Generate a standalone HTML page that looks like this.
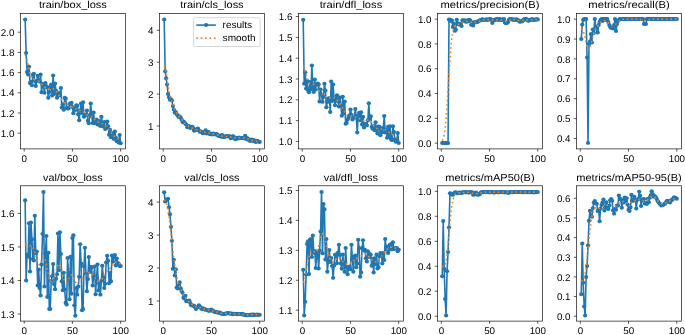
<!DOCTYPE html>
<html><head><meta charset="utf-8"><title>results</title>
<style>
html,body{margin:0;padding:0;background:#fff;}
body{width:685px;height:335px;overflow:hidden;font-family:"Liberation Sans",sans-serif;}
svg{display:block;will-change:transform;}
svg text{text-rendering:geometricPrecision;}
</style></head><body>
<svg width="685" height="335" viewBox="0 0 685 335">
<rect width="685" height="335" fill="#fff"/>
<g font-family="'Liberation Sans', sans-serif" fill="#000">
<g>
<clipPath id="c0"><rect x="20.39" y="13.55" width="105.03" height="135.35"/></clipPath>
<g clip-path="url(#c0)">
<polyline points="25.16,19.47 26.13,52.91 27.09,72.09 28.06,74.55 29.02,66.67 29.99,83.1 30.95,81.76 31.92,85.22 32.88,74.69 33.84,73.73 34.81,81.08 35.77,86.03 36.74,80.87 37.7,75.86 38.67,80.28 39.63,81.46 40.6,74.55 41.56,92.29 42.53,83.68 43.49,85.92 44.45,92.8 45.42,83.1 46.38,86.35 47.35,87.62 48.31,97.85 49.28,91.93 50.24,86.7 51.21,84.42 52.17,95.61 53.14,75.38 54.1,93.98 55.06,83.61 56.03,90.81 56.99,97.65 57.96,94.89 58.92,93.08 59.89,95.35 60.85,88.05 61.82,107.6 62.78,104.27 63.74,109.74 64.71,97.85 65.67,98.56 66.64,107.98 67.6,108.42 68.57,108.44 69.53,104.01 70.5,103.44 71.46,102.7 72.42,107.1 73.39,113.34 74.35,108.25 75.32,110.03 76.28,105.12 77.25,105.77 78.21,114.17 79.18,120.27 80.14,110.52 81.11,103.51 82.07,113.12 83.03,102.19 84,116.64 84.96,114.99 85.93,114.84 86.89,110.38 87.86,120.74 88.82,123.2 89.79,114.88 90.75,103.51 91.72,116.28 92.68,122.96 93.64,112.53 94.61,123.2 95.57,122.39 96.54,119.55 97.5,124.51 98.47,120.66 99.43,124.83 100.4,125.94 101.36,116.64 102.32,123.2 103.29,126.48 104.25,121.88 105.22,128.96 106.18,127.99 107.15,121.58 108.11,126.23 109.08,134.72 110.04,129.74 111.01,137.14 111.97,133.22 112.93,133.65 113.9,138.9 114.86,131.41 115.83,137.74 116.79,141.28 117.76,139.66 118.72,142.39 119.69,135.02 120.65,143.23" fill="none" stroke="#1f77b4" stroke-width="1.6" stroke-linejoin="round" stroke-linecap="square"/>
<g fill="#1f77b4"><ellipse cx="25.16" cy="19.47" rx="2.1319999999999997" ry="1.9884999999999997"/><ellipse cx="26.13" cy="52.91" rx="2.1319999999999997" ry="1.9884999999999997"/><ellipse cx="27.09" cy="72.09" rx="2.1319999999999997" ry="1.9884999999999997"/><ellipse cx="28.06" cy="74.55" rx="2.1319999999999997" ry="1.9884999999999997"/><ellipse cx="29.02" cy="66.67" rx="2.1319999999999997" ry="1.9884999999999997"/><ellipse cx="29.99" cy="83.1" rx="2.1319999999999997" ry="1.9884999999999997"/><ellipse cx="30.95" cy="81.76" rx="2.1319999999999997" ry="1.9884999999999997"/><ellipse cx="31.92" cy="85.22" rx="2.1319999999999997" ry="1.9884999999999997"/><ellipse cx="32.88" cy="74.69" rx="2.1319999999999997" ry="1.9884999999999997"/><ellipse cx="33.84" cy="73.73" rx="2.1319999999999997" ry="1.9884999999999997"/><ellipse cx="34.81" cy="81.08" rx="2.1319999999999997" ry="1.9884999999999997"/><ellipse cx="35.77" cy="86.03" rx="2.1319999999999997" ry="1.9884999999999997"/><ellipse cx="36.74" cy="80.87" rx="2.1319999999999997" ry="1.9884999999999997"/><ellipse cx="37.7" cy="75.86" rx="2.1319999999999997" ry="1.9884999999999997"/><ellipse cx="38.67" cy="80.28" rx="2.1319999999999997" ry="1.9884999999999997"/><ellipse cx="39.63" cy="81.46" rx="2.1319999999999997" ry="1.9884999999999997"/><ellipse cx="40.6" cy="74.55" rx="2.1319999999999997" ry="1.9884999999999997"/><ellipse cx="41.56" cy="92.29" rx="2.1319999999999997" ry="1.9884999999999997"/><ellipse cx="42.53" cy="83.68" rx="2.1319999999999997" ry="1.9884999999999997"/><ellipse cx="43.49" cy="85.92" rx="2.1319999999999997" ry="1.9884999999999997"/><ellipse cx="44.45" cy="92.8" rx="2.1319999999999997" ry="1.9884999999999997"/><ellipse cx="45.42" cy="83.1" rx="2.1319999999999997" ry="1.9884999999999997"/><ellipse cx="46.38" cy="86.35" rx="2.1319999999999997" ry="1.9884999999999997"/><ellipse cx="47.35" cy="87.62" rx="2.1319999999999997" ry="1.9884999999999997"/><ellipse cx="48.31" cy="97.85" rx="2.1319999999999997" ry="1.9884999999999997"/><ellipse cx="49.28" cy="91.93" rx="2.1319999999999997" ry="1.9884999999999997"/><ellipse cx="50.24" cy="86.7" rx="2.1319999999999997" ry="1.9884999999999997"/><ellipse cx="51.21" cy="84.42" rx="2.1319999999999997" ry="1.9884999999999997"/><ellipse cx="52.17" cy="95.61" rx="2.1319999999999997" ry="1.9884999999999997"/><ellipse cx="53.14" cy="75.38" rx="2.1319999999999997" ry="1.9884999999999997"/><ellipse cx="54.1" cy="93.98" rx="2.1319999999999997" ry="1.9884999999999997"/><ellipse cx="55.06" cy="83.61" rx="2.1319999999999997" ry="1.9884999999999997"/><ellipse cx="56.03" cy="90.81" rx="2.1319999999999997" ry="1.9884999999999997"/><ellipse cx="56.99" cy="97.65" rx="2.1319999999999997" ry="1.9884999999999997"/><ellipse cx="57.96" cy="94.89" rx="2.1319999999999997" ry="1.9884999999999997"/><ellipse cx="58.92" cy="93.08" rx="2.1319999999999997" ry="1.9884999999999997"/><ellipse cx="59.89" cy="95.35" rx="2.1319999999999997" ry="1.9884999999999997"/><ellipse cx="60.85" cy="88.05" rx="2.1319999999999997" ry="1.9884999999999997"/><ellipse cx="61.82" cy="107.6" rx="2.1319999999999997" ry="1.9884999999999997"/><ellipse cx="62.78" cy="104.27" rx="2.1319999999999997" ry="1.9884999999999997"/><ellipse cx="63.74" cy="109.74" rx="2.1319999999999997" ry="1.9884999999999997"/><ellipse cx="64.71" cy="97.85" rx="2.1319999999999997" ry="1.9884999999999997"/><ellipse cx="65.67" cy="98.56" rx="2.1319999999999997" ry="1.9884999999999997"/><ellipse cx="66.64" cy="107.98" rx="2.1319999999999997" ry="1.9884999999999997"/><ellipse cx="67.6" cy="108.42" rx="2.1319999999999997" ry="1.9884999999999997"/><ellipse cx="68.57" cy="108.44" rx="2.1319999999999997" ry="1.9884999999999997"/><ellipse cx="69.53" cy="104.01" rx="2.1319999999999997" ry="1.9884999999999997"/><ellipse cx="70.5" cy="103.44" rx="2.1319999999999997" ry="1.9884999999999997"/><ellipse cx="71.46" cy="102.7" rx="2.1319999999999997" ry="1.9884999999999997"/><ellipse cx="72.42" cy="107.1" rx="2.1319999999999997" ry="1.9884999999999997"/><ellipse cx="73.39" cy="113.34" rx="2.1319999999999997" ry="1.9884999999999997"/><ellipse cx="74.35" cy="108.25" rx="2.1319999999999997" ry="1.9884999999999997"/><ellipse cx="75.32" cy="110.03" rx="2.1319999999999997" ry="1.9884999999999997"/><ellipse cx="76.28" cy="105.12" rx="2.1319999999999997" ry="1.9884999999999997"/><ellipse cx="77.25" cy="105.77" rx="2.1319999999999997" ry="1.9884999999999997"/><ellipse cx="78.21" cy="114.17" rx="2.1319999999999997" ry="1.9884999999999997"/><ellipse cx="79.18" cy="120.27" rx="2.1319999999999997" ry="1.9884999999999997"/><ellipse cx="80.14" cy="110.52" rx="2.1319999999999997" ry="1.9884999999999997"/><ellipse cx="81.11" cy="103.51" rx="2.1319999999999997" ry="1.9884999999999997"/><ellipse cx="82.07" cy="113.12" rx="2.1319999999999997" ry="1.9884999999999997"/><ellipse cx="83.03" cy="102.19" rx="2.1319999999999997" ry="1.9884999999999997"/><ellipse cx="84" cy="116.64" rx="2.1319999999999997" ry="1.9884999999999997"/><ellipse cx="84.96" cy="114.99" rx="2.1319999999999997" ry="1.9884999999999997"/><ellipse cx="85.93" cy="114.84" rx="2.1319999999999997" ry="1.9884999999999997"/><ellipse cx="86.89" cy="110.38" rx="2.1319999999999997" ry="1.9884999999999997"/><ellipse cx="87.86" cy="120.74" rx="2.1319999999999997" ry="1.9884999999999997"/><ellipse cx="88.82" cy="123.2" rx="2.1319999999999997" ry="1.9884999999999997"/><ellipse cx="89.79" cy="114.88" rx="2.1319999999999997" ry="1.9884999999999997"/><ellipse cx="90.75" cy="103.51" rx="2.1319999999999997" ry="1.9884999999999997"/><ellipse cx="91.72" cy="116.28" rx="2.1319999999999997" ry="1.9884999999999997"/><ellipse cx="92.68" cy="122.96" rx="2.1319999999999997" ry="1.9884999999999997"/><ellipse cx="93.64" cy="112.53" rx="2.1319999999999997" ry="1.9884999999999997"/><ellipse cx="94.61" cy="123.2" rx="2.1319999999999997" ry="1.9884999999999997"/><ellipse cx="95.57" cy="122.39" rx="2.1319999999999997" ry="1.9884999999999997"/><ellipse cx="96.54" cy="119.55" rx="2.1319999999999997" ry="1.9884999999999997"/><ellipse cx="97.5" cy="124.51" rx="2.1319999999999997" ry="1.9884999999999997"/><ellipse cx="98.47" cy="120.66" rx="2.1319999999999997" ry="1.9884999999999997"/><ellipse cx="99.43" cy="124.83" rx="2.1319999999999997" ry="1.9884999999999997"/><ellipse cx="100.4" cy="125.94" rx="2.1319999999999997" ry="1.9884999999999997"/><ellipse cx="101.36" cy="116.64" rx="2.1319999999999997" ry="1.9884999999999997"/><ellipse cx="102.32" cy="123.2" rx="2.1319999999999997" ry="1.9884999999999997"/><ellipse cx="103.29" cy="126.48" rx="2.1319999999999997" ry="1.9884999999999997"/><ellipse cx="104.25" cy="121.88" rx="2.1319999999999997" ry="1.9884999999999997"/><ellipse cx="105.22" cy="128.96" rx="2.1319999999999997" ry="1.9884999999999997"/><ellipse cx="106.18" cy="127.99" rx="2.1319999999999997" ry="1.9884999999999997"/><ellipse cx="107.15" cy="121.58" rx="2.1319999999999997" ry="1.9884999999999997"/><ellipse cx="108.11" cy="126.23" rx="2.1319999999999997" ry="1.9884999999999997"/><ellipse cx="109.08" cy="134.72" rx="2.1319999999999997" ry="1.9884999999999997"/><ellipse cx="110.04" cy="129.74" rx="2.1319999999999997" ry="1.9884999999999997"/><ellipse cx="111.01" cy="137.14" rx="2.1319999999999997" ry="1.9884999999999997"/><ellipse cx="111.97" cy="133.22" rx="2.1319999999999997" ry="1.9884999999999997"/><ellipse cx="112.93" cy="133.65" rx="2.1319999999999997" ry="1.9884999999999997"/><ellipse cx="113.9" cy="138.9" rx="2.1319999999999997" ry="1.9884999999999997"/><ellipse cx="114.86" cy="131.41" rx="2.1319999999999997" ry="1.9884999999999997"/><ellipse cx="115.83" cy="137.74" rx="2.1319999999999997" ry="1.9884999999999997"/><ellipse cx="116.79" cy="141.28" rx="2.1319999999999997" ry="1.9884999999999997"/><ellipse cx="117.76" cy="139.66" rx="2.1319999999999997" ry="1.9884999999999997"/><ellipse cx="118.72" cy="142.39" rx="2.1319999999999997" ry="1.9884999999999997"/><ellipse cx="119.69" cy="135.02" rx="2.1319999999999997" ry="1.9884999999999997"/><ellipse cx="120.65" cy="143.23" rx="2.1319999999999997" ry="1.9884999999999997"/></g>
<polyline points="25.16,54.89 26.13,56.94 27.09,60.55 28.06,64.9 29.02,69.17 29.99,72.8 30.95,75.52 31.92,77.36 32.88,78.51 33.84,79.2 34.81,79.63 35.77,79.95 36.74,80.27 37.7,80.66 38.67,81.2 39.63,81.93 40.6,82.84 41.56,83.88 42.53,84.94 43.49,85.94 44.45,86.83 45.42,87.61 46.38,88.24 47.35,88.69 48.31,88.94 49.28,88.97 50.24,88.83 51.21,88.65 52.17,88.58 53.14,88.76 54.1,89.26 55.06,90.08 56.03,91.14 56.99,92.37 57.96,93.69 58.92,95.09 59.89,96.56 60.85,98.07 61.82,99.56 62.78,100.93 63.74,102.11 64.71,103.08 65.67,103.86 66.64,104.48 67.6,104.99 68.57,105.4 69.53,105.78 70.5,106.18 71.46,106.65 72.42,107.18 73.39,107.75 74.35,108.33 75.32,108.9 76.28,109.43 77.25,109.91 78.21,110.3 79.18,110.56 80.14,110.74 81.11,110.91 82.07,111.2 83.03,111.69 84,112.37 84.96,113.18 85.93,113.98 86.89,114.67 87.86,115.18 88.82,115.53 89.79,115.83 90.75,116.2 91.72,116.75 92.68,117.5 93.64,118.4 94.61,119.36 95.57,120.27 96.54,121.06 97.5,121.7 98.47,122.19 99.43,122.58 100.4,122.93 101.36,123.31 102.32,123.76 103.29,124.33 104.25,125.01 105.22,125.82 106.18,126.74 107.15,127.8 108.11,128.98 109.08,130.22 110.04,131.47 111.01,132.66 111.97,133.75 112.93,134.75 113.9,135.67 114.86,136.55 115.83,137.38 116.79,138.14 117.76,138.79 118.72,139.28 119.69,139.62 120.65,139.78" fill="none" stroke="#ff7f0e" stroke-width="1.6" stroke-dasharray="1.65 2.75" stroke-linejoin="round"/>
</g>
<rect x="20.39" y="13.55" width="105.03" height="135.35" fill="none" stroke="#000" stroke-width="0.65"/>
<path d="M24.2 148.9v2.7M72.42 148.9v2.7M120.65 148.9v2.7M20.39 133.2h-2.7M20.39 113h-2.7M20.39 92.8h-2.7M20.39 72.6h-2.7M20.39 52.4h-2.7M20.39 32.2h-2.7" stroke="#000" stroke-width="0.65" fill="none"/>
<g font-size="9.75">
<text transform="translate(21.58 161.9) scale(1.0031 1)">0</text>
<text transform="translate(67.09 161.9) scale(1.0031 1)">50</text>
<text transform="translate(112.59 161.9) scale(1.0036 1)">100</text>
<text transform="translate(0.8 136.8) scale(1.0031 1)">1.0</text>
<text transform="translate(0.8 116.6) scale(1.0031 1)">1.2</text>
<text transform="translate(0.8 96.4) scale(1.0031 1)">1.4</text>
<text transform="translate(0.8 76.2) scale(1.0031 1)">1.6</text>
<text transform="translate(0.8 56) scale(1.0031 1)">1.8</text>
<text transform="translate(0.8 35.8) scale(1.0031 1)">2.0</text>
</g>
<g font-size="10.2"><text transform="translate(38.91 8.3) scale(1.0806 1)">train/box_loss</text></g>
</g>
<g>
<clipPath id="c1"><rect x="159.42" y="13.55" width="105.03" height="135.35"/></clipPath>
<g clip-path="url(#c1)">
<polyline points="164.19,19.58 165.16,71.2 166.12,78.15 167.09,84.53 168.05,94.1 169.02,97.29 169.98,99.84 170.95,99.2 171.91,100.54 172.88,105.9 173.84,109.41 174.8,112.47 175.77,111.9 176.73,114.17 177.7,115.21 178.66,116.89 179.63,116.53 180.59,117.43 181.56,119.38 182.52,122.03 183.48,121.47 184.45,122.5 185.41,123.7 186.38,124.63 187.34,127.28 188.31,126.19 189.27,126.31 190.24,128.02 191.2,126.8 192.16,126.82 193.13,127.9 194.09,130.85 195.06,130.11 196.02,130.16 196.99,128.99 197.95,128.47 198.92,130.58 199.88,131.81 200.85,131.39 201.81,131.71 202.77,133.24 203.74,133.01 204.7,132.26 205.67,130.15 206.63,133.4 207.6,132.22 208.56,132.11 209.53,133.98 210.49,134.23 211.45,133.72 212.42,134.44 213.38,133.41 214.35,133.99 215.31,134.55 216.28,133.97 217.24,134.4 218.21,135.75 219.17,136.12 220.14,135.55 221.1,136.85 222.06,135.1 223.03,137.07 223.99,136.69 224.96,137.03 225.92,136 226.89,135.92 227.85,136.24 228.82,136.35 229.78,136.24 230.75,138.27 231.71,137.58 232.67,136.34 233.64,136.47 234.6,138.61 235.57,139.21 236.53,138.49 237.5,137.68 238.46,138.51 239.43,137.55 240.39,138.11 241.35,137.9 242.32,138.06 243.28,137.91 244.25,138.26 245.21,135.63 246.18,138.89 247.14,138.06 248.11,139.69 249.07,139.28 250.03,141.08 251,140 251.96,139.56 252.93,141.12 253.89,140.03 254.86,141.28 255.82,141.98 256.79,140.79 257.75,140.94 258.72,141.63 259.68,142.08" fill="none" stroke="#1f77b4" stroke-width="1.6" stroke-linejoin="round" stroke-linecap="square"/>
<g fill="#1f77b4"><ellipse cx="164.19" cy="19.58" rx="2.1319999999999997" ry="1.9884999999999997"/><ellipse cx="165.16" cy="71.2" rx="2.1319999999999997" ry="1.9884999999999997"/><ellipse cx="166.12" cy="78.15" rx="2.1319999999999997" ry="1.9884999999999997"/><ellipse cx="167.09" cy="84.53" rx="2.1319999999999997" ry="1.9884999999999997"/><ellipse cx="168.05" cy="94.1" rx="2.1319999999999997" ry="1.9884999999999997"/><ellipse cx="169.02" cy="97.29" rx="2.1319999999999997" ry="1.9884999999999997"/><ellipse cx="169.98" cy="99.84" rx="2.1319999999999997" ry="1.9884999999999997"/><ellipse cx="170.95" cy="99.2" rx="2.1319999999999997" ry="1.9884999999999997"/><ellipse cx="171.91" cy="100.54" rx="2.1319999999999997" ry="1.9884999999999997"/><ellipse cx="172.88" cy="105.9" rx="2.1319999999999997" ry="1.9884999999999997"/><ellipse cx="173.84" cy="109.41" rx="2.1319999999999997" ry="1.9884999999999997"/><ellipse cx="174.8" cy="112.47" rx="2.1319999999999997" ry="1.9884999999999997"/><ellipse cx="175.77" cy="111.9" rx="2.1319999999999997" ry="1.9884999999999997"/><ellipse cx="176.73" cy="114.17" rx="2.1319999999999997" ry="1.9884999999999997"/><ellipse cx="177.7" cy="115.21" rx="2.1319999999999997" ry="1.9884999999999997"/><ellipse cx="178.66" cy="116.89" rx="2.1319999999999997" ry="1.9884999999999997"/><ellipse cx="179.63" cy="116.53" rx="2.1319999999999997" ry="1.9884999999999997"/><ellipse cx="180.59" cy="117.43" rx="2.1319999999999997" ry="1.9884999999999997"/><ellipse cx="181.56" cy="119.38" rx="2.1319999999999997" ry="1.9884999999999997"/><ellipse cx="182.52" cy="122.03" rx="2.1319999999999997" ry="1.9884999999999997"/><ellipse cx="183.48" cy="121.47" rx="2.1319999999999997" ry="1.9884999999999997"/><ellipse cx="184.45" cy="122.5" rx="2.1319999999999997" ry="1.9884999999999997"/><ellipse cx="185.41" cy="123.7" rx="2.1319999999999997" ry="1.9884999999999997"/><ellipse cx="186.38" cy="124.63" rx="2.1319999999999997" ry="1.9884999999999997"/><ellipse cx="187.34" cy="127.28" rx="2.1319999999999997" ry="1.9884999999999997"/><ellipse cx="188.31" cy="126.19" rx="2.1319999999999997" ry="1.9884999999999997"/><ellipse cx="189.27" cy="126.31" rx="2.1319999999999997" ry="1.9884999999999997"/><ellipse cx="190.24" cy="128.02" rx="2.1319999999999997" ry="1.9884999999999997"/><ellipse cx="191.2" cy="126.8" rx="2.1319999999999997" ry="1.9884999999999997"/><ellipse cx="192.16" cy="126.82" rx="2.1319999999999997" ry="1.9884999999999997"/><ellipse cx="193.13" cy="127.9" rx="2.1319999999999997" ry="1.9884999999999997"/><ellipse cx="194.09" cy="130.85" rx="2.1319999999999997" ry="1.9884999999999997"/><ellipse cx="195.06" cy="130.11" rx="2.1319999999999997" ry="1.9884999999999997"/><ellipse cx="196.02" cy="130.16" rx="2.1319999999999997" ry="1.9884999999999997"/><ellipse cx="196.99" cy="128.99" rx="2.1319999999999997" ry="1.9884999999999997"/><ellipse cx="197.95" cy="128.47" rx="2.1319999999999997" ry="1.9884999999999997"/><ellipse cx="198.92" cy="130.58" rx="2.1319999999999997" ry="1.9884999999999997"/><ellipse cx="199.88" cy="131.81" rx="2.1319999999999997" ry="1.9884999999999997"/><ellipse cx="200.85" cy="131.39" rx="2.1319999999999997" ry="1.9884999999999997"/><ellipse cx="201.81" cy="131.71" rx="2.1319999999999997" ry="1.9884999999999997"/><ellipse cx="202.77" cy="133.24" rx="2.1319999999999997" ry="1.9884999999999997"/><ellipse cx="203.74" cy="133.01" rx="2.1319999999999997" ry="1.9884999999999997"/><ellipse cx="204.7" cy="132.26" rx="2.1319999999999997" ry="1.9884999999999997"/><ellipse cx="205.67" cy="130.15" rx="2.1319999999999997" ry="1.9884999999999997"/><ellipse cx="206.63" cy="133.4" rx="2.1319999999999997" ry="1.9884999999999997"/><ellipse cx="207.6" cy="132.22" rx="2.1319999999999997" ry="1.9884999999999997"/><ellipse cx="208.56" cy="132.11" rx="2.1319999999999997" ry="1.9884999999999997"/><ellipse cx="209.53" cy="133.98" rx="2.1319999999999997" ry="1.9884999999999997"/><ellipse cx="210.49" cy="134.23" rx="2.1319999999999997" ry="1.9884999999999997"/><ellipse cx="211.45" cy="133.72" rx="2.1319999999999997" ry="1.9884999999999997"/><ellipse cx="212.42" cy="134.44" rx="2.1319999999999997" ry="1.9884999999999997"/><ellipse cx="213.38" cy="133.41" rx="2.1319999999999997" ry="1.9884999999999997"/><ellipse cx="214.35" cy="133.99" rx="2.1319999999999997" ry="1.9884999999999997"/><ellipse cx="215.31" cy="134.55" rx="2.1319999999999997" ry="1.9884999999999997"/><ellipse cx="216.28" cy="133.97" rx="2.1319999999999997" ry="1.9884999999999997"/><ellipse cx="217.24" cy="134.4" rx="2.1319999999999997" ry="1.9884999999999997"/><ellipse cx="218.21" cy="135.75" rx="2.1319999999999997" ry="1.9884999999999997"/><ellipse cx="219.17" cy="136.12" rx="2.1319999999999997" ry="1.9884999999999997"/><ellipse cx="220.14" cy="135.55" rx="2.1319999999999997" ry="1.9884999999999997"/><ellipse cx="221.1" cy="136.85" rx="2.1319999999999997" ry="1.9884999999999997"/><ellipse cx="222.06" cy="135.1" rx="2.1319999999999997" ry="1.9884999999999997"/><ellipse cx="223.03" cy="137.07" rx="2.1319999999999997" ry="1.9884999999999997"/><ellipse cx="223.99" cy="136.69" rx="2.1319999999999997" ry="1.9884999999999997"/><ellipse cx="224.96" cy="137.03" rx="2.1319999999999997" ry="1.9884999999999997"/><ellipse cx="225.92" cy="136" rx="2.1319999999999997" ry="1.9884999999999997"/><ellipse cx="226.89" cy="135.92" rx="2.1319999999999997" ry="1.9884999999999997"/><ellipse cx="227.85" cy="136.24" rx="2.1319999999999997" ry="1.9884999999999997"/><ellipse cx="228.82" cy="136.35" rx="2.1319999999999997" ry="1.9884999999999997"/><ellipse cx="229.78" cy="136.24" rx="2.1319999999999997" ry="1.9884999999999997"/><ellipse cx="230.75" cy="138.27" rx="2.1319999999999997" ry="1.9884999999999997"/><ellipse cx="231.71" cy="137.58" rx="2.1319999999999997" ry="1.9884999999999997"/><ellipse cx="232.67" cy="136.34" rx="2.1319999999999997" ry="1.9884999999999997"/><ellipse cx="233.64" cy="136.47" rx="2.1319999999999997" ry="1.9884999999999997"/><ellipse cx="234.6" cy="138.61" rx="2.1319999999999997" ry="1.9884999999999997"/><ellipse cx="235.57" cy="139.21" rx="2.1319999999999997" ry="1.9884999999999997"/><ellipse cx="236.53" cy="138.49" rx="2.1319999999999997" ry="1.9884999999999997"/><ellipse cx="237.5" cy="137.68" rx="2.1319999999999997" ry="1.9884999999999997"/><ellipse cx="238.46" cy="138.51" rx="2.1319999999999997" ry="1.9884999999999997"/><ellipse cx="239.43" cy="137.55" rx="2.1319999999999997" ry="1.9884999999999997"/><ellipse cx="240.39" cy="138.11" rx="2.1319999999999997" ry="1.9884999999999997"/><ellipse cx="241.35" cy="137.9" rx="2.1319999999999997" ry="1.9884999999999997"/><ellipse cx="242.32" cy="138.06" rx="2.1319999999999997" ry="1.9884999999999997"/><ellipse cx="243.28" cy="137.91" rx="2.1319999999999997" ry="1.9884999999999997"/><ellipse cx="244.25" cy="138.26" rx="2.1319999999999997" ry="1.9884999999999997"/><ellipse cx="245.21" cy="135.63" rx="2.1319999999999997" ry="1.9884999999999997"/><ellipse cx="246.18" cy="138.89" rx="2.1319999999999997" ry="1.9884999999999997"/><ellipse cx="247.14" cy="138.06" rx="2.1319999999999997" ry="1.9884999999999997"/><ellipse cx="248.11" cy="139.69" rx="2.1319999999999997" ry="1.9884999999999997"/><ellipse cx="249.07" cy="139.28" rx="2.1319999999999997" ry="1.9884999999999997"/><ellipse cx="250.03" cy="141.08" rx="2.1319999999999997" ry="1.9884999999999997"/><ellipse cx="251" cy="140" rx="2.1319999999999997" ry="1.9884999999999997"/><ellipse cx="251.96" cy="139.56" rx="2.1319999999999997" ry="1.9884999999999997"/><ellipse cx="252.93" cy="141.12" rx="2.1319999999999997" ry="1.9884999999999997"/><ellipse cx="253.89" cy="140.03" rx="2.1319999999999997" ry="1.9884999999999997"/><ellipse cx="254.86" cy="141.28" rx="2.1319999999999997" ry="1.9884999999999997"/><ellipse cx="255.82" cy="141.98" rx="2.1319999999999997" ry="1.9884999999999997"/><ellipse cx="256.79" cy="140.79" rx="2.1319999999999997" ry="1.9884999999999997"/><ellipse cx="257.75" cy="140.94" rx="2.1319999999999997" ry="1.9884999999999997"/><ellipse cx="258.72" cy="141.63" rx="2.1319999999999997" ry="1.9884999999999997"/><ellipse cx="259.68" cy="142.08" rx="2.1319999999999997" ry="1.9884999999999997"/></g>
<polyline points="164.19,65.67 165.16,68.34 166.12,73.08 167.09,78.93 168.05,84.94 169.02,90.43 169.98,95.11 170.95,98.98 171.91,102.21 172.88,104.98 173.84,107.41 174.8,109.56 175.77,111.46 176.73,113.13 177.7,114.59 178.66,115.91 179.63,117.13 180.59,118.29 181.56,119.43 182.52,120.53 183.48,121.61 184.45,122.63 185.41,123.59 186.38,124.46 187.34,125.23 188.31,125.9 189.27,126.49 190.24,127.01 191.2,127.5 192.16,127.97 193.13,128.42 194.09,128.84 195.06,129.22 196.02,129.56 196.99,129.89 197.95,130.23 198.92,130.59 199.88,130.96 200.85,131.32 201.81,131.64 202.77,131.89 203.74,132.08 204.7,132.23 205.67,132.38 206.63,132.54 207.6,132.75 208.56,132.98 209.53,133.23 210.49,133.47 211.45,133.68 212.42,133.87 213.38,134.05 214.35,134.23 215.31,134.44 216.28,134.67 217.24,134.94 218.21,135.22 219.17,135.49 220.14,135.74 221.1,135.95 222.06,136.12 223.03,136.24 223.99,136.33 224.96,136.38 225.92,136.43 226.89,136.48 227.85,136.56 228.82,136.68 229.78,136.83 230.75,137.01 231.71,137.2 232.67,137.39 233.64,137.59 234.6,137.77 235.57,137.91 236.53,138.01 237.5,138.06 238.46,138.06 239.43,138.03 240.39,137.99 241.35,137.96 242.32,137.94 243.28,137.96 244.25,138.04 245.21,138.2 246.18,138.44 247.14,138.74 248.11,139.07 249.07,139.41 250.03,139.73 251,140.02 251.96,140.27 252.93,140.5 253.89,140.7 254.86,140.89 255.82,141.06 256.79,141.21 257.75,141.32 258.72,141.41 259.68,141.45" fill="none" stroke="#ff7f0e" stroke-width="1.6" stroke-dasharray="1.65 2.75" stroke-linejoin="round"/>
</g>
<rect x="159.42" y="13.55" width="105.03" height="135.35" fill="none" stroke="#000" stroke-width="0.65"/>
<path d="M163.23 148.9v2.7M211.45 148.9v2.7M259.68 148.9v2.7M159.42 126h-2.7M159.42 94.1h-2.7M159.42 62.2h-2.7M159.42 30.3h-2.7" stroke="#000" stroke-width="0.65" fill="none"/>
<g font-size="9.75">
<text transform="translate(160.61 161.9) scale(1.0031 1)">0</text>
<text transform="translate(206.12 161.9) scale(1.0031 1)">50</text>
<text transform="translate(251.62 161.9) scale(1.0036 1)">100</text>
<text transform="translate(147.98 129.6) scale(1.0031 1)">1</text>
<text transform="translate(147.98 97.7) scale(1.0031 1)">2</text>
<text transform="translate(147.98 65.8) scale(1.0031 1)">3</text>
<text transform="translate(147.98 33.9) scale(1.0031 1)">4</text>
</g>
<g font-size="10.2"><text transform="translate(180.2 8.3) scale(1.0768 1)">train/cls_loss</text></g>
<rect x="193.6" y="17.7" width="66.6" height="28.8" rx="1.7" ry="1.6" fill="#fff" fill-opacity="0.8" stroke="#ccc" stroke-width="0.8"/>
<path d="M196.3 25.1H215.9" stroke="#1f77b4" stroke-width="1.6" fill="none"/>
<ellipse cx="206.1" cy="25.1" rx="2.1319999999999997" ry="1.9884999999999997" fill="#1f77b4"/>
<path d="M196.3 38.1H215.9" stroke="#ff7f0e" stroke-width="1.6" stroke-dasharray="1.65 2.75" fill="none"/>
<g font-size="9.75">
<text transform="translate(222.6 28.2) scale(1.0267 1)">results</text>
<text transform="translate(222.6 41.2) scale(1.0308 1)">smooth</text>
</g>
</g>
<g>
<clipPath id="c2"><rect x="298.45" y="13.55" width="105.03" height="135.35"/></clipPath>
<g clip-path="url(#c2)">
<polyline points="303.22,19.72 304.19,83.66 305.15,72.18 306.12,88.57 307.08,80.79 308.05,90.23 309.01,92.37 309.98,81.91 310.94,89.4 311.9,65.6 312.87,87.78 313.83,91.9 314.8,79.56 315.76,89.4 316.73,85.12 317.69,83.57 318.66,84.49 319.62,101.46 320.59,89.4 321.55,94.51 322.51,101.88 323.48,97.02 324.44,83.66 325.41,90.54 326.37,107.29 327.34,101.98 328.3,98.41 329.27,98.21 330.23,111.91 331.19,81.54 332.16,101.11 333.12,84.49 334.09,100.15 335.05,105.21 336.02,97.97 336.98,95.16 337.95,101.19 338.91,106.46 339.88,97.6 340.84,105.86 341.8,115.86 342.77,96.8 343.73,113.23 344.7,101.57 345.66,123.72 346.63,122.97 347.59,119.62 348.56,117.51 349.52,115.31 350.49,109.45 351.45,114.75 352.41,119.62 353.38,117.87 354.34,117.42 355.31,108.95 356.27,117.43 357.24,132.46 358.2,115.56 359.17,112.74 360.13,120.16 361.09,112.28 362.06,124.55 363.02,116.7 363.99,127.51 364.95,123.68 365.92,124.1 366.88,125.38 367.85,120.25 368.81,103.21 369.77,118.21 370.74,116.34 371.7,127.06 372.67,128.65 373.63,125.9 374.6,130.29 375.56,122.35 376.53,130.47 377.49,133.58 378.46,126.52 379.42,126.85 380.38,135.16 381.35,128.5 382.31,132.2 383.28,127.88 384.24,116.02 385.21,132.48 386.17,129.93 387.14,137.66 388.1,126.68 389.06,136.79 390.03,126.22 390.99,139.01 391.96,140.34 392.92,126.22 393.89,131.92 394.85,139.01 395.82,141.74 396.78,140.49 397.75,133.08 398.71,143.06" fill="none" stroke="#1f77b4" stroke-width="1.6" stroke-linejoin="round" stroke-linecap="square"/>
<g fill="#1f77b4"><ellipse cx="303.22" cy="19.72" rx="2.1319999999999997" ry="1.9884999999999997"/><ellipse cx="304.19" cy="83.66" rx="2.1319999999999997" ry="1.9884999999999997"/><ellipse cx="305.15" cy="72.18" rx="2.1319999999999997" ry="1.9884999999999997"/><ellipse cx="306.12" cy="88.57" rx="2.1319999999999997" ry="1.9884999999999997"/><ellipse cx="307.08" cy="80.79" rx="2.1319999999999997" ry="1.9884999999999997"/><ellipse cx="308.05" cy="90.23" rx="2.1319999999999997" ry="1.9884999999999997"/><ellipse cx="309.01" cy="92.37" rx="2.1319999999999997" ry="1.9884999999999997"/><ellipse cx="309.98" cy="81.91" rx="2.1319999999999997" ry="1.9884999999999997"/><ellipse cx="310.94" cy="89.4" rx="2.1319999999999997" ry="1.9884999999999997"/><ellipse cx="311.9" cy="65.6" rx="2.1319999999999997" ry="1.9884999999999997"/><ellipse cx="312.87" cy="87.78" rx="2.1319999999999997" ry="1.9884999999999997"/><ellipse cx="313.83" cy="91.9" rx="2.1319999999999997" ry="1.9884999999999997"/><ellipse cx="314.8" cy="79.56" rx="2.1319999999999997" ry="1.9884999999999997"/><ellipse cx="315.76" cy="89.4" rx="2.1319999999999997" ry="1.9884999999999997"/><ellipse cx="316.73" cy="85.12" rx="2.1319999999999997" ry="1.9884999999999997"/><ellipse cx="317.69" cy="83.57" rx="2.1319999999999997" ry="1.9884999999999997"/><ellipse cx="318.66" cy="84.49" rx="2.1319999999999997" ry="1.9884999999999997"/><ellipse cx="319.62" cy="101.46" rx="2.1319999999999997" ry="1.9884999999999997"/><ellipse cx="320.59" cy="89.4" rx="2.1319999999999997" ry="1.9884999999999997"/><ellipse cx="321.55" cy="94.51" rx="2.1319999999999997" ry="1.9884999999999997"/><ellipse cx="322.51" cy="101.88" rx="2.1319999999999997" ry="1.9884999999999997"/><ellipse cx="323.48" cy="97.02" rx="2.1319999999999997" ry="1.9884999999999997"/><ellipse cx="324.44" cy="83.66" rx="2.1319999999999997" ry="1.9884999999999997"/><ellipse cx="325.41" cy="90.54" rx="2.1319999999999997" ry="1.9884999999999997"/><ellipse cx="326.37" cy="107.29" rx="2.1319999999999997" ry="1.9884999999999997"/><ellipse cx="327.34" cy="101.98" rx="2.1319999999999997" ry="1.9884999999999997"/><ellipse cx="328.3" cy="98.41" rx="2.1319999999999997" ry="1.9884999999999997"/><ellipse cx="329.27" cy="98.21" rx="2.1319999999999997" ry="1.9884999999999997"/><ellipse cx="330.23" cy="111.91" rx="2.1319999999999997" ry="1.9884999999999997"/><ellipse cx="331.19" cy="81.54" rx="2.1319999999999997" ry="1.9884999999999997"/><ellipse cx="332.16" cy="101.11" rx="2.1319999999999997" ry="1.9884999999999997"/><ellipse cx="333.12" cy="84.49" rx="2.1319999999999997" ry="1.9884999999999997"/><ellipse cx="334.09" cy="100.15" rx="2.1319999999999997" ry="1.9884999999999997"/><ellipse cx="335.05" cy="105.21" rx="2.1319999999999997" ry="1.9884999999999997"/><ellipse cx="336.02" cy="97.97" rx="2.1319999999999997" ry="1.9884999999999997"/><ellipse cx="336.98" cy="95.16" rx="2.1319999999999997" ry="1.9884999999999997"/><ellipse cx="337.95" cy="101.19" rx="2.1319999999999997" ry="1.9884999999999997"/><ellipse cx="338.91" cy="106.46" rx="2.1319999999999997" ry="1.9884999999999997"/><ellipse cx="339.88" cy="97.6" rx="2.1319999999999997" ry="1.9884999999999997"/><ellipse cx="340.84" cy="105.86" rx="2.1319999999999997" ry="1.9884999999999997"/><ellipse cx="341.8" cy="115.86" rx="2.1319999999999997" ry="1.9884999999999997"/><ellipse cx="342.77" cy="96.8" rx="2.1319999999999997" ry="1.9884999999999997"/><ellipse cx="343.73" cy="113.23" rx="2.1319999999999997" ry="1.9884999999999997"/><ellipse cx="344.7" cy="101.57" rx="2.1319999999999997" ry="1.9884999999999997"/><ellipse cx="345.66" cy="123.72" rx="2.1319999999999997" ry="1.9884999999999997"/><ellipse cx="346.63" cy="122.97" rx="2.1319999999999997" ry="1.9884999999999997"/><ellipse cx="347.59" cy="119.62" rx="2.1319999999999997" ry="1.9884999999999997"/><ellipse cx="348.56" cy="117.51" rx="2.1319999999999997" ry="1.9884999999999997"/><ellipse cx="349.52" cy="115.31" rx="2.1319999999999997" ry="1.9884999999999997"/><ellipse cx="350.49" cy="109.45" rx="2.1319999999999997" ry="1.9884999999999997"/><ellipse cx="351.45" cy="114.75" rx="2.1319999999999997" ry="1.9884999999999997"/><ellipse cx="352.41" cy="119.62" rx="2.1319999999999997" ry="1.9884999999999997"/><ellipse cx="353.38" cy="117.87" rx="2.1319999999999997" ry="1.9884999999999997"/><ellipse cx="354.34" cy="117.42" rx="2.1319999999999997" ry="1.9884999999999997"/><ellipse cx="355.31" cy="108.95" rx="2.1319999999999997" ry="1.9884999999999997"/><ellipse cx="356.27" cy="117.43" rx="2.1319999999999997" ry="1.9884999999999997"/><ellipse cx="357.24" cy="132.46" rx="2.1319999999999997" ry="1.9884999999999997"/><ellipse cx="358.2" cy="115.56" rx="2.1319999999999997" ry="1.9884999999999997"/><ellipse cx="359.17" cy="112.74" rx="2.1319999999999997" ry="1.9884999999999997"/><ellipse cx="360.13" cy="120.16" rx="2.1319999999999997" ry="1.9884999999999997"/><ellipse cx="361.09" cy="112.28" rx="2.1319999999999997" ry="1.9884999999999997"/><ellipse cx="362.06" cy="124.55" rx="2.1319999999999997" ry="1.9884999999999997"/><ellipse cx="363.02" cy="116.7" rx="2.1319999999999997" ry="1.9884999999999997"/><ellipse cx="363.99" cy="127.51" rx="2.1319999999999997" ry="1.9884999999999997"/><ellipse cx="364.95" cy="123.68" rx="2.1319999999999997" ry="1.9884999999999997"/><ellipse cx="365.92" cy="124.1" rx="2.1319999999999997" ry="1.9884999999999997"/><ellipse cx="366.88" cy="125.38" rx="2.1319999999999997" ry="1.9884999999999997"/><ellipse cx="367.85" cy="120.25" rx="2.1319999999999997" ry="1.9884999999999997"/><ellipse cx="368.81" cy="103.21" rx="2.1319999999999997" ry="1.9884999999999997"/><ellipse cx="369.77" cy="118.21" rx="2.1319999999999997" ry="1.9884999999999997"/><ellipse cx="370.74" cy="116.34" rx="2.1319999999999997" ry="1.9884999999999997"/><ellipse cx="371.7" cy="127.06" rx="2.1319999999999997" ry="1.9884999999999997"/><ellipse cx="372.67" cy="128.65" rx="2.1319999999999997" ry="1.9884999999999997"/><ellipse cx="373.63" cy="125.9" rx="2.1319999999999997" ry="1.9884999999999997"/><ellipse cx="374.6" cy="130.29" rx="2.1319999999999997" ry="1.9884999999999997"/><ellipse cx="375.56" cy="122.35" rx="2.1319999999999997" ry="1.9884999999999997"/><ellipse cx="376.53" cy="130.47" rx="2.1319999999999997" ry="1.9884999999999997"/><ellipse cx="377.49" cy="133.58" rx="2.1319999999999997" ry="1.9884999999999997"/><ellipse cx="378.46" cy="126.52" rx="2.1319999999999997" ry="1.9884999999999997"/><ellipse cx="379.42" cy="126.85" rx="2.1319999999999997" ry="1.9884999999999997"/><ellipse cx="380.38" cy="135.16" rx="2.1319999999999997" ry="1.9884999999999997"/><ellipse cx="381.35" cy="128.5" rx="2.1319999999999997" ry="1.9884999999999997"/><ellipse cx="382.31" cy="132.2" rx="2.1319999999999997" ry="1.9884999999999997"/><ellipse cx="383.28" cy="127.88" rx="2.1319999999999997" ry="1.9884999999999997"/><ellipse cx="384.24" cy="116.02" rx="2.1319999999999997" ry="1.9884999999999997"/><ellipse cx="385.21" cy="132.48" rx="2.1319999999999997" ry="1.9884999999999997"/><ellipse cx="386.17" cy="129.93" rx="2.1319999999999997" ry="1.9884999999999997"/><ellipse cx="387.14" cy="137.66" rx="2.1319999999999997" ry="1.9884999999999997"/><ellipse cx="388.1" cy="126.68" rx="2.1319999999999997" ry="1.9884999999999997"/><ellipse cx="389.06" cy="136.79" rx="2.1319999999999997" ry="1.9884999999999997"/><ellipse cx="390.03" cy="126.22" rx="2.1319999999999997" ry="1.9884999999999997"/><ellipse cx="390.99" cy="139.01" rx="2.1319999999999997" ry="1.9884999999999997"/><ellipse cx="391.96" cy="140.34" rx="2.1319999999999997" ry="1.9884999999999997"/><ellipse cx="392.92" cy="126.22" rx="2.1319999999999997" ry="1.9884999999999997"/><ellipse cx="393.89" cy="131.92" rx="2.1319999999999997" ry="1.9884999999999997"/><ellipse cx="394.85" cy="139.01" rx="2.1319999999999997" ry="1.9884999999999997"/><ellipse cx="395.82" cy="141.74" rx="2.1319999999999997" ry="1.9884999999999997"/><ellipse cx="396.78" cy="140.49" rx="2.1319999999999997" ry="1.9884999999999997"/><ellipse cx="397.75" cy="133.08" rx="2.1319999999999997" ry="1.9884999999999997"/><ellipse cx="398.71" cy="143.06" rx="2.1319999999999997" ry="1.9884999999999997"/></g>
<polyline points="303.22,65.92 304.19,67.83 305.15,71.12 306.12,74.93 307.08,78.44 308.05,81.12 309.01,82.8 309.98,83.65 310.94,83.98 311.9,84.14 312.87,84.37 313.83,84.77 314.8,85.39 315.76,86.2 316.73,87.22 317.69,88.41 318.66,89.72 319.62,91.05 320.59,92.29 321.55,93.36 322.51,94.25 323.48,95.04 324.44,95.81 325.41,96.58 326.37,97.31 327.34,97.87 328.3,98.13 329.27,98.07 330.23,97.77 331.19,97.42 332.16,97.21 333.12,97.29 334.09,97.68 335.05,98.36 336.02,99.22 336.98,100.23 337.95,101.33 338.91,102.53 339.88,103.82 340.84,105.24 341.8,106.78 342.77,108.47 343.73,110.26 344.7,112.05 345.66,113.66 346.63,114.91 347.59,115.71 348.56,116.09 349.52,116.18 350.49,116.15 351.45,116.18 352.41,116.32 353.38,116.59 354.34,116.96 355.31,117.36 356.27,117.74 357.24,118.05 358.2,118.31 359.17,118.57 360.13,118.93 361.09,119.42 362.06,120.01 363.02,120.59 363.99,120.98 364.95,121.08 365.92,120.85 366.88,120.42 367.85,120.05 368.81,119.99 369.77,120.42 370.74,121.35 371.7,122.64 372.67,124.06 373.63,125.41 374.6,126.57 375.56,127.49 376.53,128.19 377.49,128.7 378.46,129.03 379.42,129.19 380.38,129.19 381.35,129.08 382.31,128.96 383.28,128.95 384.24,129.14 385.21,129.57 386.17,130.2 387.14,130.95 388.1,131.72 389.06,132.44 390.03,133.11 390.99,133.73 391.96,134.37 392.92,135.05 393.89,135.78 394.85,136.55 395.82,137.29 396.78,137.92 397.75,138.38 398.71,138.61" fill="none" stroke="#ff7f0e" stroke-width="1.6" stroke-dasharray="1.65 2.75" stroke-linejoin="round"/>
</g>
<rect x="298.45" y="13.55" width="105.03" height="135.35" fill="none" stroke="#000" stroke-width="0.65"/>
<path d="M302.26 148.9v2.7M350.49 148.9v2.7M398.71 148.9v2.7M298.45 141.4h-2.7M298.45 120.6h-2.7M298.45 99.8h-2.7M298.45 79h-2.7M298.45 58.2h-2.7M298.45 37.4h-2.7M298.45 16.6h-2.7" stroke="#000" stroke-width="0.65" fill="none"/>
<g font-size="9.75">
<text transform="translate(299.64 161.9) scale(1.0031 1)">0</text>
<text transform="translate(345.15 161.9) scale(1.0031 1)">50</text>
<text transform="translate(390.65 161.9) scale(1.0036 1)">100</text>
<text transform="translate(278.86 145) scale(1.0031 1)">1.0</text>
<text transform="translate(278.86 124.2) scale(1.0031 1)">1.1</text>
<text transform="translate(278.86 103.4) scale(1.0031 1)">1.2</text>
<text transform="translate(278.86 82.6) scale(1.0031 1)">1.3</text>
<text transform="translate(278.86 61.8) scale(1.0031 1)">1.4</text>
<text transform="translate(278.86 41) scale(1.0031 1)">1.5</text>
<text transform="translate(278.86 20.2) scale(1.0031 1)">1.6</text>
</g>
<g font-size="10.2"><text transform="translate(319.64 8.3) scale(1.0942 1)">train/dfl_loss</text></g>
</g>
<g>
<clipPath id="c3"><rect x="437.48" y="13.55" width="105.03" height="135.35"/></clipPath>
<g clip-path="url(#c3)">
<polyline points="442.25,143.1 443.22,143.1 444.18,143.1 445.15,143.1 446.11,143.1 447.08,143.1 448.04,143.1 449.01,19.47 449.97,19.72 450.94,20.96 451.9,20.34 452.86,27.04 453.83,23.44 454.79,30.88 455.76,29.64 456.72,19.84 457.69,24.06 458.65,23.44 459.62,24.68 460.58,24.06 461.54,25.92 462.51,20.34 463.47,20.96 464.44,20.34 465.4,21.45 466.37,21.72 467.33,20.12 468.3,21.38 469.26,19.67 470.23,20.61 471.19,24.68 472.15,22.82 473.12,25.42 474.08,22.2 475.05,22.57 476.01,21.83 476.98,22.2 477.94,21.58 478.91,20.96 479.87,20.34 480.83,20.31 481.8,19.6 482.76,19.14 483.73,20.09 484.69,20.09 485.66,19.84 486.62,19.26 487.59,20.09 488.55,19.59 489.52,19.35 490.48,19.1 491.44,20.09 492.41,23.07 493.37,20.09 494.34,19.69 495.3,20.09 496.27,19.1 497.23,19.86 498.2,19.1 499.16,19.89 500.12,19.1 501.09,19.91 502.05,20.09 503.02,19.4 503.98,19.1 504.95,22.57 505.91,23.32 506.88,23.07 507.84,22.2 508.81,20.09 509.77,19.1 510.73,19.1 511.7,19.51 512.66,19.23 513.63,20.09 514.59,19.41 515.56,20.09 516.52,19.17 517.49,19.91 518.45,20.34 519.41,21.58 520.38,21.83 521.34,20.96 522.31,21.21 523.27,20.09 524.24,19.1 525.2,19.48 526.17,19.1 527.13,19.4 528.1,20.71 529.06,20.59 530.02,20.09 530.99,19.8 531.95,19.1 532.92,19.83 533.88,20.09 534.85,19.45 535.81,19.68 536.78,19.1 537.74,19.54" fill="none" stroke="#1f77b4" stroke-width="1.6" stroke-linejoin="round" stroke-linecap="square"/>
<g fill="#1f77b4"><ellipse cx="442.25" cy="143.1" rx="2.1319999999999997" ry="1.9884999999999997"/><ellipse cx="443.22" cy="143.1" rx="2.1319999999999997" ry="1.9884999999999997"/><ellipse cx="444.18" cy="143.1" rx="2.1319999999999997" ry="1.9884999999999997"/><ellipse cx="445.15" cy="143.1" rx="2.1319999999999997" ry="1.9884999999999997"/><ellipse cx="446.11" cy="143.1" rx="2.1319999999999997" ry="1.9884999999999997"/><ellipse cx="447.08" cy="143.1" rx="2.1319999999999997" ry="1.9884999999999997"/><ellipse cx="448.04" cy="143.1" rx="2.1319999999999997" ry="1.9884999999999997"/><ellipse cx="449.01" cy="19.47" rx="2.1319999999999997" ry="1.9884999999999997"/><ellipse cx="449.97" cy="19.72" rx="2.1319999999999997" ry="1.9884999999999997"/><ellipse cx="450.94" cy="20.96" rx="2.1319999999999997" ry="1.9884999999999997"/><ellipse cx="451.9" cy="20.34" rx="2.1319999999999997" ry="1.9884999999999997"/><ellipse cx="452.86" cy="27.04" rx="2.1319999999999997" ry="1.9884999999999997"/><ellipse cx="453.83" cy="23.44" rx="2.1319999999999997" ry="1.9884999999999997"/><ellipse cx="454.79" cy="30.88" rx="2.1319999999999997" ry="1.9884999999999997"/><ellipse cx="455.76" cy="29.64" rx="2.1319999999999997" ry="1.9884999999999997"/><ellipse cx="456.72" cy="19.84" rx="2.1319999999999997" ry="1.9884999999999997"/><ellipse cx="457.69" cy="24.06" rx="2.1319999999999997" ry="1.9884999999999997"/><ellipse cx="458.65" cy="23.44" rx="2.1319999999999997" ry="1.9884999999999997"/><ellipse cx="459.62" cy="24.68" rx="2.1319999999999997" ry="1.9884999999999997"/><ellipse cx="460.58" cy="24.06" rx="2.1319999999999997" ry="1.9884999999999997"/><ellipse cx="461.54" cy="25.92" rx="2.1319999999999997" ry="1.9884999999999997"/><ellipse cx="462.51" cy="20.34" rx="2.1319999999999997" ry="1.9884999999999997"/><ellipse cx="463.47" cy="20.96" rx="2.1319999999999997" ry="1.9884999999999997"/><ellipse cx="464.44" cy="20.34" rx="2.1319999999999997" ry="1.9884999999999997"/><ellipse cx="465.4" cy="21.45" rx="2.1319999999999997" ry="1.9884999999999997"/><ellipse cx="466.37" cy="21.72" rx="2.1319999999999997" ry="1.9884999999999997"/><ellipse cx="467.33" cy="20.12" rx="2.1319999999999997" ry="1.9884999999999997"/><ellipse cx="468.3" cy="21.38" rx="2.1319999999999997" ry="1.9884999999999997"/><ellipse cx="469.26" cy="19.67" rx="2.1319999999999997" ry="1.9884999999999997"/><ellipse cx="470.23" cy="20.61" rx="2.1319999999999997" ry="1.9884999999999997"/><ellipse cx="471.19" cy="24.68" rx="2.1319999999999997" ry="1.9884999999999997"/><ellipse cx="472.15" cy="22.82" rx="2.1319999999999997" ry="1.9884999999999997"/><ellipse cx="473.12" cy="25.42" rx="2.1319999999999997" ry="1.9884999999999997"/><ellipse cx="474.08" cy="22.2" rx="2.1319999999999997" ry="1.9884999999999997"/><ellipse cx="475.05" cy="22.57" rx="2.1319999999999997" ry="1.9884999999999997"/><ellipse cx="476.01" cy="21.83" rx="2.1319999999999997" ry="1.9884999999999997"/><ellipse cx="476.98" cy="22.2" rx="2.1319999999999997" ry="1.9884999999999997"/><ellipse cx="477.94" cy="21.58" rx="2.1319999999999997" ry="1.9884999999999997"/><ellipse cx="478.91" cy="20.96" rx="2.1319999999999997" ry="1.9884999999999997"/><ellipse cx="479.87" cy="20.34" rx="2.1319999999999997" ry="1.9884999999999997"/><ellipse cx="480.83" cy="20.31" rx="2.1319999999999997" ry="1.9884999999999997"/><ellipse cx="481.8" cy="19.6" rx="2.1319999999999997" ry="1.9884999999999997"/><ellipse cx="482.76" cy="19.14" rx="2.1319999999999997" ry="1.9884999999999997"/><ellipse cx="483.73" cy="20.09" rx="2.1319999999999997" ry="1.9884999999999997"/><ellipse cx="484.69" cy="20.09" rx="2.1319999999999997" ry="1.9884999999999997"/><ellipse cx="485.66" cy="19.84" rx="2.1319999999999997" ry="1.9884999999999997"/><ellipse cx="486.62" cy="19.26" rx="2.1319999999999997" ry="1.9884999999999997"/><ellipse cx="487.59" cy="20.09" rx="2.1319999999999997" ry="1.9884999999999997"/><ellipse cx="488.55" cy="19.59" rx="2.1319999999999997" ry="1.9884999999999997"/><ellipse cx="489.52" cy="19.35" rx="2.1319999999999997" ry="1.9884999999999997"/><ellipse cx="490.48" cy="19.1" rx="2.1319999999999997" ry="1.9884999999999997"/><ellipse cx="491.44" cy="20.09" rx="2.1319999999999997" ry="1.9884999999999997"/><ellipse cx="492.41" cy="23.07" rx="2.1319999999999997" ry="1.9884999999999997"/><ellipse cx="493.37" cy="20.09" rx="2.1319999999999997" ry="1.9884999999999997"/><ellipse cx="494.34" cy="19.69" rx="2.1319999999999997" ry="1.9884999999999997"/><ellipse cx="495.3" cy="20.09" rx="2.1319999999999997" ry="1.9884999999999997"/><ellipse cx="496.27" cy="19.1" rx="2.1319999999999997" ry="1.9884999999999997"/><ellipse cx="497.23" cy="19.86" rx="2.1319999999999997" ry="1.9884999999999997"/><ellipse cx="498.2" cy="19.1" rx="2.1319999999999997" ry="1.9884999999999997"/><ellipse cx="499.16" cy="19.89" rx="2.1319999999999997" ry="1.9884999999999997"/><ellipse cx="500.12" cy="19.1" rx="2.1319999999999997" ry="1.9884999999999997"/><ellipse cx="501.09" cy="19.91" rx="2.1319999999999997" ry="1.9884999999999997"/><ellipse cx="502.05" cy="20.09" rx="2.1319999999999997" ry="1.9884999999999997"/><ellipse cx="503.02" cy="19.4" rx="2.1319999999999997" ry="1.9884999999999997"/><ellipse cx="503.98" cy="19.1" rx="2.1319999999999997" ry="1.9884999999999997"/><ellipse cx="504.95" cy="22.57" rx="2.1319999999999997" ry="1.9884999999999997"/><ellipse cx="505.91" cy="23.32" rx="2.1319999999999997" ry="1.9884999999999997"/><ellipse cx="506.88" cy="23.07" rx="2.1319999999999997" ry="1.9884999999999997"/><ellipse cx="507.84" cy="22.2" rx="2.1319999999999997" ry="1.9884999999999997"/><ellipse cx="508.81" cy="20.09" rx="2.1319999999999997" ry="1.9884999999999997"/><ellipse cx="509.77" cy="19.1" rx="2.1319999999999997" ry="1.9884999999999997"/><ellipse cx="510.73" cy="19.1" rx="2.1319999999999997" ry="1.9884999999999997"/><ellipse cx="511.7" cy="19.51" rx="2.1319999999999997" ry="1.9884999999999997"/><ellipse cx="512.66" cy="19.23" rx="2.1319999999999997" ry="1.9884999999999997"/><ellipse cx="513.63" cy="20.09" rx="2.1319999999999997" ry="1.9884999999999997"/><ellipse cx="514.59" cy="19.41" rx="2.1319999999999997" ry="1.9884999999999997"/><ellipse cx="515.56" cy="20.09" rx="2.1319999999999997" ry="1.9884999999999997"/><ellipse cx="516.52" cy="19.17" rx="2.1319999999999997" ry="1.9884999999999997"/><ellipse cx="517.49" cy="19.91" rx="2.1319999999999997" ry="1.9884999999999997"/><ellipse cx="518.45" cy="20.34" rx="2.1319999999999997" ry="1.9884999999999997"/><ellipse cx="519.41" cy="21.58" rx="2.1319999999999997" ry="1.9884999999999997"/><ellipse cx="520.38" cy="21.83" rx="2.1319999999999997" ry="1.9884999999999997"/><ellipse cx="521.34" cy="20.96" rx="2.1319999999999997" ry="1.9884999999999997"/><ellipse cx="522.31" cy="21.21" rx="2.1319999999999997" ry="1.9884999999999997"/><ellipse cx="523.27" cy="20.09" rx="2.1319999999999997" ry="1.9884999999999997"/><ellipse cx="524.24" cy="19.1" rx="2.1319999999999997" ry="1.9884999999999997"/><ellipse cx="525.2" cy="19.48" rx="2.1319999999999997" ry="1.9884999999999997"/><ellipse cx="526.17" cy="19.1" rx="2.1319999999999997" ry="1.9884999999999997"/><ellipse cx="527.13" cy="19.4" rx="2.1319999999999997" ry="1.9884999999999997"/><ellipse cx="528.1" cy="20.71" rx="2.1319999999999997" ry="1.9884999999999997"/><ellipse cx="529.06" cy="20.59" rx="2.1319999999999997" ry="1.9884999999999997"/><ellipse cx="530.02" cy="20.09" rx="2.1319999999999997" ry="1.9884999999999997"/><ellipse cx="530.99" cy="19.8" rx="2.1319999999999997" ry="1.9884999999999997"/><ellipse cx="531.95" cy="19.1" rx="2.1319999999999997" ry="1.9884999999999997"/><ellipse cx="532.92" cy="19.83" rx="2.1319999999999997" ry="1.9884999999999997"/><ellipse cx="533.88" cy="20.09" rx="2.1319999999999997" ry="1.9884999999999997"/><ellipse cx="534.85" cy="19.45" rx="2.1319999999999997" ry="1.9884999999999997"/><ellipse cx="535.81" cy="19.68" rx="2.1319999999999997" ry="1.9884999999999997"/><ellipse cx="536.78" cy="19.1" rx="2.1319999999999997" ry="1.9884999999999997"/><ellipse cx="537.74" cy="19.54" rx="2.1319999999999997" ry="1.9884999999999997"/></g>
<polyline points="442.25,140.54 443.22,138.8 444.18,134.9 445.15,128.25 446.11,118.4 447.08,105.42 448.04,90.16 449.01,74.18 449.97,59.24 450.94,46.85 451.9,37.72 452.86,31.76 453.83,28.31 454.79,26.5 455.76,25.56 456.72,25 457.69,24.57 458.65,24.17 459.62,23.77 460.58,23.35 461.54,22.91 462.51,22.46 463.47,22.04 464.44,21.69 465.4,21.44 466.37,21.31 467.33,21.31 468.3,21.44 469.26,21.67 470.23,21.96 471.19,22.25 472.15,22.47 473.12,22.57 474.08,22.53 475.05,22.36 476.01,22.1 476.98,21.77 477.94,21.42 478.91,21.06 479.87,20.73 480.83,20.44 481.8,20.2 482.76,20.03 483.73,19.91 484.69,19.83 485.66,19.79 486.62,19.78 487.59,19.8 488.55,19.85 489.52,19.93 490.48,20.03 491.44,20.11 492.41,20.15 493.37,20.13 494.34,20.06 495.3,19.95 496.27,19.84 497.23,19.75 498.2,19.71 499.16,19.72 500.12,19.8 501.09,19.96 502.05,20.18 503.02,20.46 503.98,20.75 504.95,21 505.91,21.13 506.88,21.12 507.84,20.95 508.81,20.68 509.77,20.37 510.73,20.09 511.7,19.89 512.66,19.77 513.63,19.75 514.59,19.8 515.56,19.92 516.52,20.07 517.49,20.25 518.45,20.42 519.41,20.54 520.38,20.59 521.34,20.54 522.31,20.42 523.27,20.26 524.24,20.1 525.2,19.97 526.17,19.9 527.13,19.88 528.1,19.88 529.06,19.89 530.02,19.88 530.99,19.84 531.95,19.79 532.92,19.73 533.88,19.67 534.85,19.61 535.81,19.57 536.78,19.53 537.74,19.51" fill="none" stroke="#ff7f0e" stroke-width="1.6" stroke-dasharray="1.65 2.75" stroke-linejoin="round"/>
</g>
<rect x="437.48" y="13.55" width="105.03" height="135.35" fill="none" stroke="#000" stroke-width="0.65"/>
<path d="M441.29 148.9v2.7M489.52 148.9v2.7M537.74 148.9v2.7M437.48 143.1h-2.7M437.48 118.3h-2.7M437.48 93.5h-2.7M437.48 68.7h-2.7M437.48 43.9h-2.7M437.48 19.1h-2.7" stroke="#000" stroke-width="0.65" fill="none"/>
<g font-size="9.75">
<text transform="translate(438.67 161.9) scale(1.0031 1)">0</text>
<text transform="translate(484.18 161.9) scale(1.0031 1)">50</text>
<text transform="translate(529.68 161.9) scale(1.0036 1)">100</text>
<text transform="translate(417.89 146.7) scale(1.0031 1)">0.0</text>
<text transform="translate(417.89 121.9) scale(1.0031 1)">0.2</text>
<text transform="translate(417.89 97.1) scale(1.0031 1)">0.4</text>
<text transform="translate(417.89 72.3) scale(1.0031 1)">0.6</text>
<text transform="translate(417.89 47.5) scale(1.0031 1)">0.8</text>
<text transform="translate(417.89 22.7) scale(1.0031 1)">1.0</text>
</g>
<g font-size="10.2"><text transform="translate(440.47 8.3) scale(1.0991 1)">metrics/precision(B)</text></g>
</g>
<g>
<clipPath id="c4"><rect x="576.51" y="13.55" width="105.03" height="135.35"/></clipPath>
<g clip-path="url(#c4)">
<polyline points="581.28,39 582.25,24.47 583.21,20.09 584.18,19.1 585.14,19.1 586.11,19.1 587.07,57.51 588.04,142.88 589,43.98 589.97,41.39 590.93,34.02 591.89,42.58 592.86,29.45 593.82,33.03 594.79,19.1 595.75,27.06 596.72,29.05 597.68,32.43 598.65,25.07 599.61,22.09 600.57,20.09 601.54,19.1 602.5,21.09 603.47,19.1 604.43,19.1 605.4,20.09 606.36,19.1 607.33,19.1 608.29,22.09 609.26,25.07 610.22,27.06 611.18,28.06 612.15,27.06 613.11,28.45 614.08,25.07 615.04,19.1 616.01,31.04 616.97,24.08 617.94,21.09 618.9,20.09 619.86,19.1 620.83,19.1 621.79,19.1 622.76,19.1 623.72,19.1 624.69,19.1 625.65,19.1 626.62,19.1 627.58,19.1 628.55,19.1 629.51,19.1 630.47,19.1 631.44,19.1 632.4,19.1 633.37,19.1 634.33,19.1 635.3,19.1 636.26,19.1 637.23,19.1 638.19,19.1 639.15,19.1 640.12,19.1 641.08,19.1 642.05,19.1 643.01,19.1 643.98,23.88 644.94,24.08 645.91,23.88 646.87,19.1 647.84,19.1 648.8,19.1 649.76,19.1 650.73,19.1 651.69,19.1 652.66,19.1 653.62,19.1 654.59,19.1 655.55,19.1 656.52,19.1 657.48,19.1 658.44,19.1 659.41,19.1 660.37,19.1 661.34,19.1 662.3,19.1 663.27,19.1 664.23,19.1 665.2,19.1 666.16,19.1 667.12,19.1 668.09,19.1 669.05,19.1 670.02,19.1 670.98,19.1 671.95,19.1 672.91,19.1 673.88,19.1 674.84,19.1 675.81,19.1 676.77,19.1" fill="none" stroke="#1f77b4" stroke-width="1.6" stroke-linejoin="round" stroke-linecap="square"/>
<g fill="#1f77b4"><ellipse cx="581.28" cy="39" rx="2.1319999999999997" ry="1.9884999999999997"/><ellipse cx="582.25" cy="24.47" rx="2.1319999999999997" ry="1.9884999999999997"/><ellipse cx="583.21" cy="20.09" rx="2.1319999999999997" ry="1.9884999999999997"/><ellipse cx="584.18" cy="19.1" rx="2.1319999999999997" ry="1.9884999999999997"/><ellipse cx="585.14" cy="19.1" rx="2.1319999999999997" ry="1.9884999999999997"/><ellipse cx="586.11" cy="19.1" rx="2.1319999999999997" ry="1.9884999999999997"/><ellipse cx="587.07" cy="57.51" rx="2.1319999999999997" ry="1.9884999999999997"/><ellipse cx="588.04" cy="142.88" rx="2.1319999999999997" ry="1.9884999999999997"/><ellipse cx="589" cy="43.98" rx="2.1319999999999997" ry="1.9884999999999997"/><ellipse cx="589.97" cy="41.39" rx="2.1319999999999997" ry="1.9884999999999997"/><ellipse cx="590.93" cy="34.02" rx="2.1319999999999997" ry="1.9884999999999997"/><ellipse cx="591.89" cy="42.58" rx="2.1319999999999997" ry="1.9884999999999997"/><ellipse cx="592.86" cy="29.45" rx="2.1319999999999997" ry="1.9884999999999997"/><ellipse cx="593.82" cy="33.03" rx="2.1319999999999997" ry="1.9884999999999997"/><ellipse cx="594.79" cy="19.1" rx="2.1319999999999997" ry="1.9884999999999997"/><ellipse cx="595.75" cy="27.06" rx="2.1319999999999997" ry="1.9884999999999997"/><ellipse cx="596.72" cy="29.05" rx="2.1319999999999997" ry="1.9884999999999997"/><ellipse cx="597.68" cy="32.43" rx="2.1319999999999997" ry="1.9884999999999997"/><ellipse cx="598.65" cy="25.07" rx="2.1319999999999997" ry="1.9884999999999997"/><ellipse cx="599.61" cy="22.09" rx="2.1319999999999997" ry="1.9884999999999997"/><ellipse cx="600.57" cy="20.09" rx="2.1319999999999997" ry="1.9884999999999997"/><ellipse cx="601.54" cy="19.1" rx="2.1319999999999997" ry="1.9884999999999997"/><ellipse cx="602.5" cy="21.09" rx="2.1319999999999997" ry="1.9884999999999997"/><ellipse cx="603.47" cy="19.1" rx="2.1319999999999997" ry="1.9884999999999997"/><ellipse cx="604.43" cy="19.1" rx="2.1319999999999997" ry="1.9884999999999997"/><ellipse cx="605.4" cy="20.09" rx="2.1319999999999997" ry="1.9884999999999997"/><ellipse cx="606.36" cy="19.1" rx="2.1319999999999997" ry="1.9884999999999997"/><ellipse cx="607.33" cy="19.1" rx="2.1319999999999997" ry="1.9884999999999997"/><ellipse cx="608.29" cy="22.09" rx="2.1319999999999997" ry="1.9884999999999997"/><ellipse cx="609.26" cy="25.07" rx="2.1319999999999997" ry="1.9884999999999997"/><ellipse cx="610.22" cy="27.06" rx="2.1319999999999997" ry="1.9884999999999997"/><ellipse cx="611.18" cy="28.06" rx="2.1319999999999997" ry="1.9884999999999997"/><ellipse cx="612.15" cy="27.06" rx="2.1319999999999997" ry="1.9884999999999997"/><ellipse cx="613.11" cy="28.45" rx="2.1319999999999997" ry="1.9884999999999997"/><ellipse cx="614.08" cy="25.07" rx="2.1319999999999997" ry="1.9884999999999997"/><ellipse cx="615.04" cy="19.1" rx="2.1319999999999997" ry="1.9884999999999997"/><ellipse cx="616.01" cy="31.04" rx="2.1319999999999997" ry="1.9884999999999997"/><ellipse cx="616.97" cy="24.08" rx="2.1319999999999997" ry="1.9884999999999997"/><ellipse cx="617.94" cy="21.09" rx="2.1319999999999997" ry="1.9884999999999997"/><ellipse cx="618.9" cy="20.09" rx="2.1319999999999997" ry="1.9884999999999997"/><ellipse cx="619.86" cy="19.1" rx="2.1319999999999997" ry="1.9884999999999997"/><ellipse cx="620.83" cy="19.1" rx="2.1319999999999997" ry="1.9884999999999997"/><ellipse cx="621.79" cy="19.1" rx="2.1319999999999997" ry="1.9884999999999997"/><ellipse cx="622.76" cy="19.1" rx="2.1319999999999997" ry="1.9884999999999997"/><ellipse cx="623.72" cy="19.1" rx="2.1319999999999997" ry="1.9884999999999997"/><ellipse cx="624.69" cy="19.1" rx="2.1319999999999997" ry="1.9884999999999997"/><ellipse cx="625.65" cy="19.1" rx="2.1319999999999997" ry="1.9884999999999997"/><ellipse cx="626.62" cy="19.1" rx="2.1319999999999997" ry="1.9884999999999997"/><ellipse cx="627.58" cy="19.1" rx="2.1319999999999997" ry="1.9884999999999997"/><ellipse cx="628.55" cy="19.1" rx="2.1319999999999997" ry="1.9884999999999997"/><ellipse cx="629.51" cy="19.1" rx="2.1319999999999997" ry="1.9884999999999997"/><ellipse cx="630.47" cy="19.1" rx="2.1319999999999997" ry="1.9884999999999997"/><ellipse cx="631.44" cy="19.1" rx="2.1319999999999997" ry="1.9884999999999997"/><ellipse cx="632.4" cy="19.1" rx="2.1319999999999997" ry="1.9884999999999997"/><ellipse cx="633.37" cy="19.1" rx="2.1319999999999997" ry="1.9884999999999997"/><ellipse cx="634.33" cy="19.1" rx="2.1319999999999997" ry="1.9884999999999997"/><ellipse cx="635.3" cy="19.1" rx="2.1319999999999997" ry="1.9884999999999997"/><ellipse cx="636.26" cy="19.1" rx="2.1319999999999997" ry="1.9884999999999997"/><ellipse cx="637.23" cy="19.1" rx="2.1319999999999997" ry="1.9884999999999997"/><ellipse cx="638.19" cy="19.1" rx="2.1319999999999997" ry="1.9884999999999997"/><ellipse cx="639.15" cy="19.1" rx="2.1319999999999997" ry="1.9884999999999997"/><ellipse cx="640.12" cy="19.1" rx="2.1319999999999997" ry="1.9884999999999997"/><ellipse cx="641.08" cy="19.1" rx="2.1319999999999997" ry="1.9884999999999997"/><ellipse cx="642.05" cy="19.1" rx="2.1319999999999997" ry="1.9884999999999997"/><ellipse cx="643.01" cy="19.1" rx="2.1319999999999997" ry="1.9884999999999997"/><ellipse cx="643.98" cy="23.88" rx="2.1319999999999997" ry="1.9884999999999997"/><ellipse cx="644.94" cy="24.08" rx="2.1319999999999997" ry="1.9884999999999997"/><ellipse cx="645.91" cy="23.88" rx="2.1319999999999997" ry="1.9884999999999997"/><ellipse cx="646.87" cy="19.1" rx="2.1319999999999997" ry="1.9884999999999997"/><ellipse cx="647.84" cy="19.1" rx="2.1319999999999997" ry="1.9884999999999997"/><ellipse cx="648.8" cy="19.1" rx="2.1319999999999997" ry="1.9884999999999997"/><ellipse cx="649.76" cy="19.1" rx="2.1319999999999997" ry="1.9884999999999997"/><ellipse cx="650.73" cy="19.1" rx="2.1319999999999997" ry="1.9884999999999997"/><ellipse cx="651.69" cy="19.1" rx="2.1319999999999997" ry="1.9884999999999997"/><ellipse cx="652.66" cy="19.1" rx="2.1319999999999997" ry="1.9884999999999997"/><ellipse cx="653.62" cy="19.1" rx="2.1319999999999997" ry="1.9884999999999997"/><ellipse cx="654.59" cy="19.1" rx="2.1319999999999997" ry="1.9884999999999997"/><ellipse cx="655.55" cy="19.1" rx="2.1319999999999997" ry="1.9884999999999997"/><ellipse cx="656.52" cy="19.1" rx="2.1319999999999997" ry="1.9884999999999997"/><ellipse cx="657.48" cy="19.1" rx="2.1319999999999997" ry="1.9884999999999997"/><ellipse cx="658.44" cy="19.1" rx="2.1319999999999997" ry="1.9884999999999997"/><ellipse cx="659.41" cy="19.1" rx="2.1319999999999997" ry="1.9884999999999997"/><ellipse cx="660.37" cy="19.1" rx="2.1319999999999997" ry="1.9884999999999997"/><ellipse cx="661.34" cy="19.1" rx="2.1319999999999997" ry="1.9884999999999997"/><ellipse cx="662.3" cy="19.1" rx="2.1319999999999997" ry="1.9884999999999997"/><ellipse cx="663.27" cy="19.1" rx="2.1319999999999997" ry="1.9884999999999997"/><ellipse cx="664.23" cy="19.1" rx="2.1319999999999997" ry="1.9884999999999997"/><ellipse cx="665.2" cy="19.1" rx="2.1319999999999997" ry="1.9884999999999997"/><ellipse cx="666.16" cy="19.1" rx="2.1319999999999997" ry="1.9884999999999997"/><ellipse cx="667.12" cy="19.1" rx="2.1319999999999997" ry="1.9884999999999997"/><ellipse cx="668.09" cy="19.1" rx="2.1319999999999997" ry="1.9884999999999997"/><ellipse cx="669.05" cy="19.1" rx="2.1319999999999997" ry="1.9884999999999997"/><ellipse cx="670.02" cy="19.1" rx="2.1319999999999997" ry="1.9884999999999997"/><ellipse cx="670.98" cy="19.1" rx="2.1319999999999997" ry="1.9884999999999997"/><ellipse cx="671.95" cy="19.1" rx="2.1319999999999997" ry="1.9884999999999997"/><ellipse cx="672.91" cy="19.1" rx="2.1319999999999997" ry="1.9884999999999997"/><ellipse cx="673.88" cy="19.1" rx="2.1319999999999997" ry="1.9884999999999997"/><ellipse cx="674.84" cy="19.1" rx="2.1319999999999997" ry="1.9884999999999997"/><ellipse cx="675.81" cy="19.1" rx="2.1319999999999997" ry="1.9884999999999997"/><ellipse cx="676.77" cy="19.1" rx="2.1319999999999997" ry="1.9884999999999997"/></g>
<polyline points="581.28,28.45 582.25,29.24 583.21,31.03 584.18,34.06 585.14,38.21 586.11,42.85 587.07,46.93 588.04,49.42 589,49.69 589.97,47.81 590.93,44.41 591.89,40.38 592.86,36.49 593.82,33.21 594.79,30.67 595.75,28.77 596.72,27.3 597.68,26.04 598.65,24.85 599.61,23.69 600.57,22.61 601.54,21.68 602.5,20.99 603.47,20.59 604.43,20.5 605.4,20.71 606.36,21.21 607.33,21.96 608.29,22.85 609.26,23.78 610.22,24.59 611.18,25.18 612.15,25.46 613.11,25.44 614.08,25.14 615.04,24.62 616.01,23.94 616.97,23.13 617.94,22.29 618.9,21.46 619.86,20.73 620.83,20.14 621.79,19.71 622.76,19.43 623.72,19.26 624.69,19.17 625.65,19.13 626.62,19.11 627.58,19.1 628.55,19.1 629.51,19.1 630.47,19.1 631.44,19.1 632.4,19.1 633.37,19.1 634.33,19.1 635.3,19.11 636.26,19.13 637.23,19.17 638.19,19.25 639.15,19.39 640.12,19.61 641.08,19.92 642.05,20.27 643.01,20.62 643.98,20.87 644.94,20.96 645.91,20.87 646.87,20.62 647.84,20.27 648.8,19.92 649.76,19.61 650.73,19.39 651.69,19.25 652.66,19.17 653.62,19.13 654.59,19.11 655.55,19.1 656.52,19.1 657.48,19.1 658.44,19.1 659.41,19.1 660.37,19.1 661.34,19.1 662.3,19.1 663.27,19.1 664.23,19.1 665.2,19.1 666.16,19.1 667.12,19.1 668.09,19.1 669.05,19.1 670.02,19.1 670.98,19.1 671.95,19.1 672.91,19.1 673.88,19.1 674.84,19.1 675.81,19.1 676.77,19.1" fill="none" stroke="#ff7f0e" stroke-width="1.6" stroke-dasharray="1.65 2.75" stroke-linejoin="round"/>
</g>
<rect x="576.51" y="13.55" width="105.03" height="135.35" fill="none" stroke="#000" stroke-width="0.65"/>
<path d="M580.32 148.9v2.7M628.55 148.9v2.7M676.77 148.9v2.7M576.51 138.5h-2.7M576.51 118.6h-2.7M576.51 98.7h-2.7M576.51 78.8h-2.7M576.51 58.9h-2.7M576.51 39h-2.7M576.51 19.1h-2.7" stroke="#000" stroke-width="0.65" fill="none"/>
<g font-size="9.75">
<text transform="translate(577.7 161.9) scale(1.0031 1)">0</text>
<text transform="translate(623.21 161.9) scale(1.0031 1)">50</text>
<text transform="translate(668.71 161.9) scale(1.0036 1)">100</text>
<text transform="translate(556.92 142.1) scale(1.0031 1)">0.4</text>
<text transform="translate(556.92 122.2) scale(1.0031 1)">0.5</text>
<text transform="translate(556.92 102.3) scale(1.0031 1)">0.6</text>
<text transform="translate(556.92 82.4) scale(1.0031 1)">0.7</text>
<text transform="translate(556.92 62.5) scale(1.0031 1)">0.8</text>
<text transform="translate(556.92 42.6) scale(1.0031 1)">0.9</text>
<text transform="translate(556.92 22.7) scale(1.0031 1)">1.0</text>
</g>
<g font-size="10.2"><text transform="translate(588.31 8.3) scale(1.1053 1)">metrics/recall(B)</text></g>
</g>
<g>
<clipPath id="c5"><rect x="20.39" y="185.8" width="105.03" height="135.3"/></clipPath>
<g clip-path="url(#c5)">
<polyline points="25.16,200.3 26.13,280.53 27.09,254.42 28.06,256.86 29.02,223.13 29.99,271.47 30.95,222.45 31.92,239.34 32.88,259.05 33.84,260.39 34.81,215.74 35.77,253.34 36.74,251.41 37.7,285.57 38.67,269.58 39.63,287.92 40.6,295.47 41.56,264.48 42.53,233.87 43.49,191.91 44.45,286.4 45.42,253.6 46.38,235.88 47.35,296.98 48.31,252.67 49.28,309.06 50.24,309.06 51.21,281.04 52.17,276.27 53.14,264.08 54.1,284.1 55.06,289.26 56.03,278.77 56.99,274.15 57.96,233.53 58.92,270.3 59.89,232.19 60.85,254.01 61.82,281.2 62.78,290.31 63.74,272.86 64.71,289.59 65.67,302.85 66.64,304.47 67.6,258.04 68.57,272.8 69.53,299.33 70.5,256.7 71.46,293.79 72.42,237.9 73.39,235.21 74.35,305.37 75.32,315.64 76.28,287.96 77.25,294.63 78.21,286.4 79.18,276.81 80.14,244.27 81.11,263.44 82.07,310.21 83.03,309.06 84,266.29 84.96,247.63 85.93,274.09 86.89,291.27 87.86,278.92 88.82,257.03 89.79,271.89 90.75,267.1 91.72,267.3 92.68,285.57 93.64,276.65 94.61,266.4 95.57,294.29 96.54,277.51 97.5,264.42 98.47,290.6 99.43,283.46 100.4,294.63 101.36,280.66 102.32,265.76 103.29,277.68 104.25,288.05 105.22,283.87 106.18,262.4 107.15,255.69 108.11,260.65 109.08,283.22 110.04,272.92 111.01,281.2 111.97,255.45 112.93,261.73 113.9,256.62 114.86,255.02 115.83,265.46 116.79,258.37 117.76,262.97 118.72,263.75 119.69,266.11 120.65,266.09" fill="none" stroke="#1f77b4" stroke-width="1.6" stroke-linejoin="round" stroke-linecap="square"/>
<g fill="#1f77b4"><ellipse cx="25.16" cy="200.3" rx="2.1319999999999997" ry="1.9884999999999997"/><ellipse cx="26.13" cy="280.53" rx="2.1319999999999997" ry="1.9884999999999997"/><ellipse cx="27.09" cy="254.42" rx="2.1319999999999997" ry="1.9884999999999997"/><ellipse cx="28.06" cy="256.86" rx="2.1319999999999997" ry="1.9884999999999997"/><ellipse cx="29.02" cy="223.13" rx="2.1319999999999997" ry="1.9884999999999997"/><ellipse cx="29.99" cy="271.47" rx="2.1319999999999997" ry="1.9884999999999997"/><ellipse cx="30.95" cy="222.45" rx="2.1319999999999997" ry="1.9884999999999997"/><ellipse cx="31.92" cy="239.34" rx="2.1319999999999997" ry="1.9884999999999997"/><ellipse cx="32.88" cy="259.05" rx="2.1319999999999997" ry="1.9884999999999997"/><ellipse cx="33.84" cy="260.39" rx="2.1319999999999997" ry="1.9884999999999997"/><ellipse cx="34.81" cy="215.74" rx="2.1319999999999997" ry="1.9884999999999997"/><ellipse cx="35.77" cy="253.34" rx="2.1319999999999997" ry="1.9884999999999997"/><ellipse cx="36.74" cy="251.41" rx="2.1319999999999997" ry="1.9884999999999997"/><ellipse cx="37.7" cy="285.57" rx="2.1319999999999997" ry="1.9884999999999997"/><ellipse cx="38.67" cy="269.58" rx="2.1319999999999997" ry="1.9884999999999997"/><ellipse cx="39.63" cy="287.92" rx="2.1319999999999997" ry="1.9884999999999997"/><ellipse cx="40.6" cy="295.47" rx="2.1319999999999997" ry="1.9884999999999997"/><ellipse cx="41.56" cy="264.48" rx="2.1319999999999997" ry="1.9884999999999997"/><ellipse cx="42.53" cy="233.87" rx="2.1319999999999997" ry="1.9884999999999997"/><ellipse cx="43.49" cy="191.91" rx="2.1319999999999997" ry="1.9884999999999997"/><ellipse cx="44.45" cy="286.4" rx="2.1319999999999997" ry="1.9884999999999997"/><ellipse cx="45.42" cy="253.6" rx="2.1319999999999997" ry="1.9884999999999997"/><ellipse cx="46.38" cy="235.88" rx="2.1319999999999997" ry="1.9884999999999997"/><ellipse cx="47.35" cy="296.98" rx="2.1319999999999997" ry="1.9884999999999997"/><ellipse cx="48.31" cy="252.67" rx="2.1319999999999997" ry="1.9884999999999997"/><ellipse cx="49.28" cy="309.06" rx="2.1319999999999997" ry="1.9884999999999997"/><ellipse cx="50.24" cy="309.06" rx="2.1319999999999997" ry="1.9884999999999997"/><ellipse cx="51.21" cy="281.04" rx="2.1319999999999997" ry="1.9884999999999997"/><ellipse cx="52.17" cy="276.27" rx="2.1319999999999997" ry="1.9884999999999997"/><ellipse cx="53.14" cy="264.08" rx="2.1319999999999997" ry="1.9884999999999997"/><ellipse cx="54.1" cy="284.1" rx="2.1319999999999997" ry="1.9884999999999997"/><ellipse cx="55.06" cy="289.26" rx="2.1319999999999997" ry="1.9884999999999997"/><ellipse cx="56.03" cy="278.77" rx="2.1319999999999997" ry="1.9884999999999997"/><ellipse cx="56.99" cy="274.15" rx="2.1319999999999997" ry="1.9884999999999997"/><ellipse cx="57.96" cy="233.53" rx="2.1319999999999997" ry="1.9884999999999997"/><ellipse cx="58.92" cy="270.3" rx="2.1319999999999997" ry="1.9884999999999997"/><ellipse cx="59.89" cy="232.19" rx="2.1319999999999997" ry="1.9884999999999997"/><ellipse cx="60.85" cy="254.01" rx="2.1319999999999997" ry="1.9884999999999997"/><ellipse cx="61.82" cy="281.2" rx="2.1319999999999997" ry="1.9884999999999997"/><ellipse cx="62.78" cy="290.31" rx="2.1319999999999997" ry="1.9884999999999997"/><ellipse cx="63.74" cy="272.86" rx="2.1319999999999997" ry="1.9884999999999997"/><ellipse cx="64.71" cy="289.59" rx="2.1319999999999997" ry="1.9884999999999997"/><ellipse cx="65.67" cy="302.85" rx="2.1319999999999997" ry="1.9884999999999997"/><ellipse cx="66.64" cy="304.47" rx="2.1319999999999997" ry="1.9884999999999997"/><ellipse cx="67.6" cy="258.04" rx="2.1319999999999997" ry="1.9884999999999997"/><ellipse cx="68.57" cy="272.8" rx="2.1319999999999997" ry="1.9884999999999997"/><ellipse cx="69.53" cy="299.33" rx="2.1319999999999997" ry="1.9884999999999997"/><ellipse cx="70.5" cy="256.7" rx="2.1319999999999997" ry="1.9884999999999997"/><ellipse cx="71.46" cy="293.79" rx="2.1319999999999997" ry="1.9884999999999997"/><ellipse cx="72.42" cy="237.9" rx="2.1319999999999997" ry="1.9884999999999997"/><ellipse cx="73.39" cy="235.21" rx="2.1319999999999997" ry="1.9884999999999997"/><ellipse cx="74.35" cy="305.37" rx="2.1319999999999997" ry="1.9884999999999997"/><ellipse cx="75.32" cy="315.64" rx="2.1319999999999997" ry="1.9884999999999997"/><ellipse cx="76.28" cy="287.96" rx="2.1319999999999997" ry="1.9884999999999997"/><ellipse cx="77.25" cy="294.63" rx="2.1319999999999997" ry="1.9884999999999997"/><ellipse cx="78.21" cy="286.4" rx="2.1319999999999997" ry="1.9884999999999997"/><ellipse cx="79.18" cy="276.81" rx="2.1319999999999997" ry="1.9884999999999997"/><ellipse cx="80.14" cy="244.27" rx="2.1319999999999997" ry="1.9884999999999997"/><ellipse cx="81.11" cy="263.44" rx="2.1319999999999997" ry="1.9884999999999997"/><ellipse cx="82.07" cy="310.21" rx="2.1319999999999997" ry="1.9884999999999997"/><ellipse cx="83.03" cy="309.06" rx="2.1319999999999997" ry="1.9884999999999997"/><ellipse cx="84" cy="266.29" rx="2.1319999999999997" ry="1.9884999999999997"/><ellipse cx="84.96" cy="247.63" rx="2.1319999999999997" ry="1.9884999999999997"/><ellipse cx="85.93" cy="274.09" rx="2.1319999999999997" ry="1.9884999999999997"/><ellipse cx="86.89" cy="291.27" rx="2.1319999999999997" ry="1.9884999999999997"/><ellipse cx="87.86" cy="278.92" rx="2.1319999999999997" ry="1.9884999999999997"/><ellipse cx="88.82" cy="257.03" rx="2.1319999999999997" ry="1.9884999999999997"/><ellipse cx="89.79" cy="271.89" rx="2.1319999999999997" ry="1.9884999999999997"/><ellipse cx="90.75" cy="267.1" rx="2.1319999999999997" ry="1.9884999999999997"/><ellipse cx="91.72" cy="267.3" rx="2.1319999999999997" ry="1.9884999999999997"/><ellipse cx="92.68" cy="285.57" rx="2.1319999999999997" ry="1.9884999999999997"/><ellipse cx="93.64" cy="276.65" rx="2.1319999999999997" ry="1.9884999999999997"/><ellipse cx="94.61" cy="266.4" rx="2.1319999999999997" ry="1.9884999999999997"/><ellipse cx="95.57" cy="294.29" rx="2.1319999999999997" ry="1.9884999999999997"/><ellipse cx="96.54" cy="277.51" rx="2.1319999999999997" ry="1.9884999999999997"/><ellipse cx="97.5" cy="264.42" rx="2.1319999999999997" ry="1.9884999999999997"/><ellipse cx="98.47" cy="290.6" rx="2.1319999999999997" ry="1.9884999999999997"/><ellipse cx="99.43" cy="283.46" rx="2.1319999999999997" ry="1.9884999999999997"/><ellipse cx="100.4" cy="294.63" rx="2.1319999999999997" ry="1.9884999999999997"/><ellipse cx="101.36" cy="280.66" rx="2.1319999999999997" ry="1.9884999999999997"/><ellipse cx="102.32" cy="265.76" rx="2.1319999999999997" ry="1.9884999999999997"/><ellipse cx="103.29" cy="277.68" rx="2.1319999999999997" ry="1.9884999999999997"/><ellipse cx="104.25" cy="288.05" rx="2.1319999999999997" ry="1.9884999999999997"/><ellipse cx="105.22" cy="283.87" rx="2.1319999999999997" ry="1.9884999999999997"/><ellipse cx="106.18" cy="262.4" rx="2.1319999999999997" ry="1.9884999999999997"/><ellipse cx="107.15" cy="255.69" rx="2.1319999999999997" ry="1.9884999999999997"/><ellipse cx="108.11" cy="260.65" rx="2.1319999999999997" ry="1.9884999999999997"/><ellipse cx="109.08" cy="283.22" rx="2.1319999999999997" ry="1.9884999999999997"/><ellipse cx="110.04" cy="272.92" rx="2.1319999999999997" ry="1.9884999999999997"/><ellipse cx="111.01" cy="281.2" rx="2.1319999999999997" ry="1.9884999999999997"/><ellipse cx="111.97" cy="255.45" rx="2.1319999999999997" ry="1.9884999999999997"/><ellipse cx="112.93" cy="261.73" rx="2.1319999999999997" ry="1.9884999999999997"/><ellipse cx="113.9" cy="256.62" rx="2.1319999999999997" ry="1.9884999999999997"/><ellipse cx="114.86" cy="255.02" rx="2.1319999999999997" ry="1.9884999999999997"/><ellipse cx="115.83" cy="265.46" rx="2.1319999999999997" ry="1.9884999999999997"/><ellipse cx="116.79" cy="258.37" rx="2.1319999999999997" ry="1.9884999999999997"/><ellipse cx="117.76" cy="262.97" rx="2.1319999999999997" ry="1.9884999999999997"/><ellipse cx="118.72" cy="263.75" rx="2.1319999999999997" ry="1.9884999999999997"/><ellipse cx="119.69" cy="266.11" rx="2.1319999999999997" ry="1.9884999999999997"/><ellipse cx="120.65" cy="266.09" rx="2.1319999999999997" ry="1.9884999999999997"/></g>
<polyline points="25.16,243.9 26.13,244.29 27.09,244.88 28.06,245.38 29.02,245.67 29.99,245.79 30.95,245.97 31.92,246.46 32.88,247.57 33.84,249.47 34.81,252.25 35.77,255.74 36.74,259.47 37.7,262.7 38.67,264.64 39.63,264.8 40.6,263.26 41.56,260.71 42.53,258.26 43.49,257.03 44.45,257.71 45.42,260.41 46.38,264.66 47.35,269.64 48.31,274.42 49.28,278.21 50.24,280.54 51.21,281.32 52.17,280.77 53.14,279.18 54.1,276.85 55.06,273.98 56.03,270.83 56.99,267.82 57.96,265.54 58.92,264.6 59.89,265.34 60.85,267.72 61.82,271.28 62.78,275.26 63.74,278.86 64.71,281.42 65.67,282.6 66.64,282.4 67.6,281.09 68.57,279.13 69.53,277.07 70.5,275.5 71.46,274.91 72.42,275.57 73.39,277.34 74.35,279.66 75.32,281.75 76.28,282.95 77.25,283 78.21,282.15 79.18,280.93 80.14,279.84 81.11,279.09 82.07,278.53 83.03,277.92 84,277.07 84.96,276.01 85.93,274.89 86.89,273.87 87.86,273.08 88.82,272.61 89.79,272.55 90.75,272.92 91.72,273.69 92.68,274.75 93.64,275.95 94.61,277.14 95.57,278.26 96.54,279.26 97.5,280.08 98.47,280.66 99.43,280.87 100.4,280.66 101.36,279.97 102.32,278.86 103.29,277.41 104.25,275.74 105.22,274.01 106.18,272.43 107.15,271.1 108.11,270.04 109.08,269.11 110.04,268.09 111.01,266.85 111.97,265.42 112.93,263.99 113.9,262.81 114.86,262.1 115.83,261.9 116.79,262.15 117.76,262.67 118.72,263.28 119.69,263.79 120.65,264.08" fill="none" stroke="#ff7f0e" stroke-width="1.6" stroke-dasharray="1.65 2.75" stroke-linejoin="round"/>
</g>
<rect x="20.39" y="185.8" width="105.03" height="135.3" fill="none" stroke="#000" stroke-width="0.65"/>
<path d="M24.2 321.1v2.7M72.42 321.1v2.7M120.65 321.1v2.7M20.39 314.1h-2.7M20.39 280.53h-2.7M20.39 246.96h-2.7M20.39 213.39h-2.7" stroke="#000" stroke-width="0.65" fill="none"/>
<g font-size="9.75">
<text transform="translate(21.58 334.1) scale(1.0031 1)">0</text>
<text transform="translate(67.09 334.1) scale(1.0031 1)">50</text>
<text transform="translate(112.59 334.1) scale(1.0036 1)">100</text>
<text transform="translate(0.8 317.7) scale(1.0031 1)">1.3</text>
<text transform="translate(0.8 284.13) scale(1.0031 1)">1.4</text>
<text transform="translate(0.8 250.56) scale(1.0031 1)">1.5</text>
<text transform="translate(0.8 216.99) scale(1.0031 1)">1.6</text>
</g>
<g font-size="10.2"><text transform="translate(43.07 180.55) scale(1.0633 1)">val/box_loss</text></g>
</g>
<g>
<clipPath id="c6"><rect x="159.42" y="185.8" width="105.03" height="135.3"/></clipPath>
<g clip-path="url(#c6)">
<polyline points="164.19,192.2 165.16,201.43 166.12,200.11 167.09,199.45 168.05,198.79 169.02,207.23 169.98,214.29 170.95,226.82 171.91,240.66 172.88,268.69 173.84,259.79 174.8,275.61 175.77,269.35 176.73,287.48 177.7,288.47 178.66,285.5 179.63,282.21 180.59,288.14 181.56,291.11 182.52,292.76 183.48,297.7 184.45,298.49 185.41,295.79 186.38,301.33 187.34,301.34 188.31,300.84 189.27,300.6 190.24,302.9 191.2,305.19 192.16,305.22 193.13,305.73 194.09,305.81 195.06,306.91 196.02,308.95 196.99,307.41 197.95,306.62 198.92,305.19 199.88,306.53 200.85,307.93 201.81,308.95 202.77,308.32 203.74,308.74 204.7,309.24 205.67,309.79 206.63,309.64 207.6,310.07 208.56,310.73 209.53,310.65 210.49,310.07 211.45,309.57 212.42,310.69 213.38,310.99 214.35,311.74 215.31,312.08 216.28,312.08 217.24,312.47 218.21,312.42 219.17,312.73 220.14,312.56 221.1,313.59 222.06,313.71 223.03,314.07 223.99,313.66 224.96,314.09 225.92,313.46 226.89,313.2 227.85,312.87 228.82,313.56 229.78,313.14 230.75,313.83 231.71,313.51 232.67,314.3 233.64,313.82 234.6,313.62 235.57,313.83 236.53,313.87 237.5,314.19 238.46,313.85 239.43,313.96 240.39,313.92 241.35,314.04 242.32,313.84 243.28,314.73 244.25,314.47 245.21,315.04 246.18,315.22 247.14,315.21 248.11,314.94 249.07,315.1 250.03,314.84 251,314.64 251.96,314.46 252.93,315.18 253.89,314.43 254.86,314.62 255.82,315.07 256.79,314.55 257.75,314.81 258.72,314.65 259.68,314.81" fill="none" stroke="#1f77b4" stroke-width="1.6" stroke-linejoin="round" stroke-linecap="square"/>
<g fill="#1f77b4"><ellipse cx="164.19" cy="192.2" rx="2.1319999999999997" ry="1.9884999999999997"/><ellipse cx="165.16" cy="201.43" rx="2.1319999999999997" ry="1.9884999999999997"/><ellipse cx="166.12" cy="200.11" rx="2.1319999999999997" ry="1.9884999999999997"/><ellipse cx="167.09" cy="199.45" rx="2.1319999999999997" ry="1.9884999999999997"/><ellipse cx="168.05" cy="198.79" rx="2.1319999999999997" ry="1.9884999999999997"/><ellipse cx="169.02" cy="207.23" rx="2.1319999999999997" ry="1.9884999999999997"/><ellipse cx="169.98" cy="214.29" rx="2.1319999999999997" ry="1.9884999999999997"/><ellipse cx="170.95" cy="226.82" rx="2.1319999999999997" ry="1.9884999999999997"/><ellipse cx="171.91" cy="240.66" rx="2.1319999999999997" ry="1.9884999999999997"/><ellipse cx="172.88" cy="268.69" rx="2.1319999999999997" ry="1.9884999999999997"/><ellipse cx="173.84" cy="259.79" rx="2.1319999999999997" ry="1.9884999999999997"/><ellipse cx="174.8" cy="275.61" rx="2.1319999999999997" ry="1.9884999999999997"/><ellipse cx="175.77" cy="269.35" rx="2.1319999999999997" ry="1.9884999999999997"/><ellipse cx="176.73" cy="287.48" rx="2.1319999999999997" ry="1.9884999999999997"/><ellipse cx="177.7" cy="288.47" rx="2.1319999999999997" ry="1.9884999999999997"/><ellipse cx="178.66" cy="285.5" rx="2.1319999999999997" ry="1.9884999999999997"/><ellipse cx="179.63" cy="282.21" rx="2.1319999999999997" ry="1.9884999999999997"/><ellipse cx="180.59" cy="288.14" rx="2.1319999999999997" ry="1.9884999999999997"/><ellipse cx="181.56" cy="291.11" rx="2.1319999999999997" ry="1.9884999999999997"/><ellipse cx="182.52" cy="292.76" rx="2.1319999999999997" ry="1.9884999999999997"/><ellipse cx="183.48" cy="297.7" rx="2.1319999999999997" ry="1.9884999999999997"/><ellipse cx="184.45" cy="298.49" rx="2.1319999999999997" ry="1.9884999999999997"/><ellipse cx="185.41" cy="295.79" rx="2.1319999999999997" ry="1.9884999999999997"/><ellipse cx="186.38" cy="301.33" rx="2.1319999999999997" ry="1.9884999999999997"/><ellipse cx="187.34" cy="301.34" rx="2.1319999999999997" ry="1.9884999999999997"/><ellipse cx="188.31" cy="300.84" rx="2.1319999999999997" ry="1.9884999999999997"/><ellipse cx="189.27" cy="300.6" rx="2.1319999999999997" ry="1.9884999999999997"/><ellipse cx="190.24" cy="302.9" rx="2.1319999999999997" ry="1.9884999999999997"/><ellipse cx="191.2" cy="305.19" rx="2.1319999999999997" ry="1.9884999999999997"/><ellipse cx="192.16" cy="305.22" rx="2.1319999999999997" ry="1.9884999999999997"/><ellipse cx="193.13" cy="305.73" rx="2.1319999999999997" ry="1.9884999999999997"/><ellipse cx="194.09" cy="305.81" rx="2.1319999999999997" ry="1.9884999999999997"/><ellipse cx="195.06" cy="306.91" rx="2.1319999999999997" ry="1.9884999999999997"/><ellipse cx="196.02" cy="308.95" rx="2.1319999999999997" ry="1.9884999999999997"/><ellipse cx="196.99" cy="307.41" rx="2.1319999999999997" ry="1.9884999999999997"/><ellipse cx="197.95" cy="306.62" rx="2.1319999999999997" ry="1.9884999999999997"/><ellipse cx="198.92" cy="305.19" rx="2.1319999999999997" ry="1.9884999999999997"/><ellipse cx="199.88" cy="306.53" rx="2.1319999999999997" ry="1.9884999999999997"/><ellipse cx="200.85" cy="307.93" rx="2.1319999999999997" ry="1.9884999999999997"/><ellipse cx="201.81" cy="308.95" rx="2.1319999999999997" ry="1.9884999999999997"/><ellipse cx="202.77" cy="308.32" rx="2.1319999999999997" ry="1.9884999999999997"/><ellipse cx="203.74" cy="308.74" rx="2.1319999999999997" ry="1.9884999999999997"/><ellipse cx="204.7" cy="309.24" rx="2.1319999999999997" ry="1.9884999999999997"/><ellipse cx="205.67" cy="309.79" rx="2.1319999999999997" ry="1.9884999999999997"/><ellipse cx="206.63" cy="309.64" rx="2.1319999999999997" ry="1.9884999999999997"/><ellipse cx="207.6" cy="310.07" rx="2.1319999999999997" ry="1.9884999999999997"/><ellipse cx="208.56" cy="310.73" rx="2.1319999999999997" ry="1.9884999999999997"/><ellipse cx="209.53" cy="310.65" rx="2.1319999999999997" ry="1.9884999999999997"/><ellipse cx="210.49" cy="310.07" rx="2.1319999999999997" ry="1.9884999999999997"/><ellipse cx="211.45" cy="309.57" rx="2.1319999999999997" ry="1.9884999999999997"/><ellipse cx="212.42" cy="310.69" rx="2.1319999999999997" ry="1.9884999999999997"/><ellipse cx="213.38" cy="310.99" rx="2.1319999999999997" ry="1.9884999999999997"/><ellipse cx="214.35" cy="311.74" rx="2.1319999999999997" ry="1.9884999999999997"/><ellipse cx="215.31" cy="312.08" rx="2.1319999999999997" ry="1.9884999999999997"/><ellipse cx="216.28" cy="312.08" rx="2.1319999999999997" ry="1.9884999999999997"/><ellipse cx="217.24" cy="312.47" rx="2.1319999999999997" ry="1.9884999999999997"/><ellipse cx="218.21" cy="312.42" rx="2.1319999999999997" ry="1.9884999999999997"/><ellipse cx="219.17" cy="312.73" rx="2.1319999999999997" ry="1.9884999999999997"/><ellipse cx="220.14" cy="312.56" rx="2.1319999999999997" ry="1.9884999999999997"/><ellipse cx="221.1" cy="313.59" rx="2.1319999999999997" ry="1.9884999999999997"/><ellipse cx="222.06" cy="313.71" rx="2.1319999999999997" ry="1.9884999999999997"/><ellipse cx="223.03" cy="314.07" rx="2.1319999999999997" ry="1.9884999999999997"/><ellipse cx="223.99" cy="313.66" rx="2.1319999999999997" ry="1.9884999999999997"/><ellipse cx="224.96" cy="314.09" rx="2.1319999999999997" ry="1.9884999999999997"/><ellipse cx="225.92" cy="313.46" rx="2.1319999999999997" ry="1.9884999999999997"/><ellipse cx="226.89" cy="313.2" rx="2.1319999999999997" ry="1.9884999999999997"/><ellipse cx="227.85" cy="312.87" rx="2.1319999999999997" ry="1.9884999999999997"/><ellipse cx="228.82" cy="313.56" rx="2.1319999999999997" ry="1.9884999999999997"/><ellipse cx="229.78" cy="313.14" rx="2.1319999999999997" ry="1.9884999999999997"/><ellipse cx="230.75" cy="313.83" rx="2.1319999999999997" ry="1.9884999999999997"/><ellipse cx="231.71" cy="313.51" rx="2.1319999999999997" ry="1.9884999999999997"/><ellipse cx="232.67" cy="314.3" rx="2.1319999999999997" ry="1.9884999999999997"/><ellipse cx="233.64" cy="313.82" rx="2.1319999999999997" ry="1.9884999999999997"/><ellipse cx="234.6" cy="313.62" rx="2.1319999999999997" ry="1.9884999999999997"/><ellipse cx="235.57" cy="313.83" rx="2.1319999999999997" ry="1.9884999999999997"/><ellipse cx="236.53" cy="313.87" rx="2.1319999999999997" ry="1.9884999999999997"/><ellipse cx="237.5" cy="314.19" rx="2.1319999999999997" ry="1.9884999999999997"/><ellipse cx="238.46" cy="313.85" rx="2.1319999999999997" ry="1.9884999999999997"/><ellipse cx="239.43" cy="313.96" rx="2.1319999999999997" ry="1.9884999999999997"/><ellipse cx="240.39" cy="313.92" rx="2.1319999999999997" ry="1.9884999999999997"/><ellipse cx="241.35" cy="314.04" rx="2.1319999999999997" ry="1.9884999999999997"/><ellipse cx="242.32" cy="313.84" rx="2.1319999999999997" ry="1.9884999999999997"/><ellipse cx="243.28" cy="314.73" rx="2.1319999999999997" ry="1.9884999999999997"/><ellipse cx="244.25" cy="314.47" rx="2.1319999999999997" ry="1.9884999999999997"/><ellipse cx="245.21" cy="315.04" rx="2.1319999999999997" ry="1.9884999999999997"/><ellipse cx="246.18" cy="315.22" rx="2.1319999999999997" ry="1.9884999999999997"/><ellipse cx="247.14" cy="315.21" rx="2.1319999999999997" ry="1.9884999999999997"/><ellipse cx="248.11" cy="314.94" rx="2.1319999999999997" ry="1.9884999999999997"/><ellipse cx="249.07" cy="315.1" rx="2.1319999999999997" ry="1.9884999999999997"/><ellipse cx="250.03" cy="314.84" rx="2.1319999999999997" ry="1.9884999999999997"/><ellipse cx="251" cy="314.64" rx="2.1319999999999997" ry="1.9884999999999997"/><ellipse cx="251.96" cy="314.46" rx="2.1319999999999997" ry="1.9884999999999997"/><ellipse cx="252.93" cy="315.18" rx="2.1319999999999997" ry="1.9884999999999997"/><ellipse cx="253.89" cy="314.43" rx="2.1319999999999997" ry="1.9884999999999997"/><ellipse cx="254.86" cy="314.62" rx="2.1319999999999997" ry="1.9884999999999997"/><ellipse cx="255.82" cy="315.07" rx="2.1319999999999997" ry="1.9884999999999997"/><ellipse cx="256.79" cy="314.55" rx="2.1319999999999997" ry="1.9884999999999997"/><ellipse cx="257.75" cy="314.81" rx="2.1319999999999997" ry="1.9884999999999997"/><ellipse cx="258.72" cy="314.65" rx="2.1319999999999997" ry="1.9884999999999997"/><ellipse cx="259.68" cy="314.81" rx="2.1319999999999997" ry="1.9884999999999997"/></g>
<polyline points="164.19,199.65 165.16,200.62 166.12,202.65 167.09,205.9 168.05,210.53 169.02,216.62 169.98,224.04 170.95,232.48 171.91,241.42 172.88,250.27 173.84,258.51 174.8,265.75 175.77,271.85 176.73,276.79 177.7,280.71 178.66,283.85 179.63,286.44 180.59,288.7 181.56,290.79 182.52,292.74 183.48,294.57 184.45,296.23 185.41,297.69 186.38,298.98 187.34,300.11 188.31,301.13 189.27,302.08 190.24,302.98 191.2,303.82 192.16,304.61 193.13,305.29 194.09,305.86 195.06,306.3 196.02,306.62 196.99,306.85 197.95,307.03 198.92,307.22 199.88,307.45 200.85,307.74 201.81,308.08 202.77,308.44 203.74,308.79 204.7,309.12 205.67,309.42 206.63,309.68 207.6,309.91 208.56,310.1 209.53,310.27 210.49,310.45 211.45,310.65 212.42,310.88 213.38,311.15 214.35,311.44 215.31,311.73 216.28,312.01 217.24,312.27 218.21,312.52 219.17,312.76 220.14,312.99 221.1,313.18 222.06,313.35 223.03,313.46 223.99,313.52 224.96,313.53 225.92,313.52 226.89,313.49 227.85,313.48 228.82,313.49 229.78,313.54 230.75,313.6 231.71,313.66 232.67,313.73 233.64,313.79 234.6,313.83 235.57,313.87 236.53,313.9 237.5,313.94 238.46,313.98 239.43,314.03 240.39,314.11 241.35,314.21 242.32,314.33 243.28,314.47 244.25,314.6 245.21,314.73 246.18,314.82 247.14,314.88 248.11,314.9 249.07,314.89 250.03,314.86 251,314.82 251.96,314.79 252.93,314.77 253.89,314.75 254.86,314.74 255.82,314.74 256.79,314.74 257.75,314.74 258.72,314.74 259.68,314.74" fill="none" stroke="#ff7f0e" stroke-width="1.6" stroke-dasharray="1.65 2.75" stroke-linejoin="round"/>
</g>
<rect x="159.42" y="185.8" width="105.03" height="135.3" fill="none" stroke="#000" stroke-width="0.65"/>
<path d="M163.23 321.1v2.7M211.45 321.1v2.7M259.68 321.1v2.7M159.42 301h-2.7M159.42 268.03h-2.7M159.42 235.06h-2.7M159.42 202.09h-2.7" stroke="#000" stroke-width="0.65" fill="none"/>
<g font-size="9.75">
<text transform="translate(160.61 334.1) scale(1.0031 1)">0</text>
<text transform="translate(206.12 334.1) scale(1.0031 1)">50</text>
<text transform="translate(251.62 334.1) scale(1.0036 1)">100</text>
<text transform="translate(147.98 304.6) scale(1.0031 1)">1</text>
<text transform="translate(147.98 271.63) scale(1.0031 1)">2</text>
<text transform="translate(147.98 238.66) scale(1.0031 1)">3</text>
<text transform="translate(147.98 205.69) scale(1.0031 1)">4</text>
</g>
<g font-size="10.2"><text transform="translate(184.36 180.55) scale(1.0577 1)">val/cls_loss</text></g>
</g>
<g>
<clipPath id="c7"><rect x="298.45" y="185.8" width="105.03" height="135.3"/></clipPath>
<g clip-path="url(#c7)">
<polyline points="303.22,269.64 304.19,315.59 305.15,301.67 306.12,274.49 307.08,243.88 308.05,241.36 309.01,274.08 309.98,239.86 310.94,238.97 311.9,257.01 312.87,235.38 313.83,252.84 314.8,251.1 315.76,268 316.73,252.14 317.69,254.82 318.66,268.51 319.62,250.56 320.59,231.48 321.55,191.89 322.51,253.36 323.48,203.95 324.44,209.34 325.41,259.47 326.37,238.97 327.34,271.8 328.3,261.78 329.27,249.95 330.23,261.92 331.19,258.06 332.16,266.04 333.12,277.88 334.09,265.47 335.05,254.74 336.02,254.53 336.98,263.24 337.95,252.79 338.91,244.65 339.88,254.94 340.84,263.57 341.8,268.75 342.77,254.53 343.73,264.43 344.7,271.8 345.66,247.95 346.63,267.29 347.59,274.28 348.56,267.7 349.52,266.57 350.49,269.26 351.45,244.65 352.41,258.81 353.38,271.8 354.34,256.7 355.31,255.43 356.27,267.27 357.24,263.51 358.2,239.86 359.17,248.14 360.13,276.68 361.09,272.61 362.06,248.09 363.02,240.31 363.99,250.55 364.95,249.62 365.92,258.28 366.88,261.51 367.85,251.24 368.81,257.01 369.77,253.97 370.74,254.62 371.7,265.83 372.67,258.72 373.63,272.61 374.6,258.31 375.56,264.36 376.53,254.53 377.49,268.6 378.46,267.14 379.42,256.37 380.38,252.91 381.35,253.8 382.31,263.57 383.28,253.06 384.24,260.02 385.21,238.97 386.17,249.42 387.14,246.37 388.1,252.91 389.06,249.64 390.03,244.69 390.99,244.28 391.96,249.26 392.92,242.26 393.89,248.91 394.85,248.39 395.82,247.95 396.78,248.05 397.75,251.24 398.71,249.62" fill="none" stroke="#1f77b4" stroke-width="1.6" stroke-linejoin="round" stroke-linecap="square"/>
<g fill="#1f77b4"><ellipse cx="303.22" cy="269.64" rx="2.1319999999999997" ry="1.9884999999999997"/><ellipse cx="304.19" cy="315.59" rx="2.1319999999999997" ry="1.9884999999999997"/><ellipse cx="305.15" cy="301.67" rx="2.1319999999999997" ry="1.9884999999999997"/><ellipse cx="306.12" cy="274.49" rx="2.1319999999999997" ry="1.9884999999999997"/><ellipse cx="307.08" cy="243.88" rx="2.1319999999999997" ry="1.9884999999999997"/><ellipse cx="308.05" cy="241.36" rx="2.1319999999999997" ry="1.9884999999999997"/><ellipse cx="309.01" cy="274.08" rx="2.1319999999999997" ry="1.9884999999999997"/><ellipse cx="309.98" cy="239.86" rx="2.1319999999999997" ry="1.9884999999999997"/><ellipse cx="310.94" cy="238.97" rx="2.1319999999999997" ry="1.9884999999999997"/><ellipse cx="311.9" cy="257.01" rx="2.1319999999999997" ry="1.9884999999999997"/><ellipse cx="312.87" cy="235.38" rx="2.1319999999999997" ry="1.9884999999999997"/><ellipse cx="313.83" cy="252.84" rx="2.1319999999999997" ry="1.9884999999999997"/><ellipse cx="314.8" cy="251.1" rx="2.1319999999999997" ry="1.9884999999999997"/><ellipse cx="315.76" cy="268" rx="2.1319999999999997" ry="1.9884999999999997"/><ellipse cx="316.73" cy="252.14" rx="2.1319999999999997" ry="1.9884999999999997"/><ellipse cx="317.69" cy="254.82" rx="2.1319999999999997" ry="1.9884999999999997"/><ellipse cx="318.66" cy="268.51" rx="2.1319999999999997" ry="1.9884999999999997"/><ellipse cx="319.62" cy="250.56" rx="2.1319999999999997" ry="1.9884999999999997"/><ellipse cx="320.59" cy="231.48" rx="2.1319999999999997" ry="1.9884999999999997"/><ellipse cx="321.55" cy="191.89" rx="2.1319999999999997" ry="1.9884999999999997"/><ellipse cx="322.51" cy="253.36" rx="2.1319999999999997" ry="1.9884999999999997"/><ellipse cx="323.48" cy="203.95" rx="2.1319999999999997" ry="1.9884999999999997"/><ellipse cx="324.44" cy="209.34" rx="2.1319999999999997" ry="1.9884999999999997"/><ellipse cx="325.41" cy="259.47" rx="2.1319999999999997" ry="1.9884999999999997"/><ellipse cx="326.37" cy="238.97" rx="2.1319999999999997" ry="1.9884999999999997"/><ellipse cx="327.34" cy="271.8" rx="2.1319999999999997" ry="1.9884999999999997"/><ellipse cx="328.3" cy="261.78" rx="2.1319999999999997" ry="1.9884999999999997"/><ellipse cx="329.27" cy="249.95" rx="2.1319999999999997" ry="1.9884999999999997"/><ellipse cx="330.23" cy="261.92" rx="2.1319999999999997" ry="1.9884999999999997"/><ellipse cx="331.19" cy="258.06" rx="2.1319999999999997" ry="1.9884999999999997"/><ellipse cx="332.16" cy="266.04" rx="2.1319999999999997" ry="1.9884999999999997"/><ellipse cx="333.12" cy="277.88" rx="2.1319999999999997" ry="1.9884999999999997"/><ellipse cx="334.09" cy="265.47" rx="2.1319999999999997" ry="1.9884999999999997"/><ellipse cx="335.05" cy="254.74" rx="2.1319999999999997" ry="1.9884999999999997"/><ellipse cx="336.02" cy="254.53" rx="2.1319999999999997" ry="1.9884999999999997"/><ellipse cx="336.98" cy="263.24" rx="2.1319999999999997" ry="1.9884999999999997"/><ellipse cx="337.95" cy="252.79" rx="2.1319999999999997" ry="1.9884999999999997"/><ellipse cx="338.91" cy="244.65" rx="2.1319999999999997" ry="1.9884999999999997"/><ellipse cx="339.88" cy="254.94" rx="2.1319999999999997" ry="1.9884999999999997"/><ellipse cx="340.84" cy="263.57" rx="2.1319999999999997" ry="1.9884999999999997"/><ellipse cx="341.8" cy="268.75" rx="2.1319999999999997" ry="1.9884999999999997"/><ellipse cx="342.77" cy="254.53" rx="2.1319999999999997" ry="1.9884999999999997"/><ellipse cx="343.73" cy="264.43" rx="2.1319999999999997" ry="1.9884999999999997"/><ellipse cx="344.7" cy="271.8" rx="2.1319999999999997" ry="1.9884999999999997"/><ellipse cx="345.66" cy="247.95" rx="2.1319999999999997" ry="1.9884999999999997"/><ellipse cx="346.63" cy="267.29" rx="2.1319999999999997" ry="1.9884999999999997"/><ellipse cx="347.59" cy="274.28" rx="2.1319999999999997" ry="1.9884999999999997"/><ellipse cx="348.56" cy="267.7" rx="2.1319999999999997" ry="1.9884999999999997"/><ellipse cx="349.52" cy="266.57" rx="2.1319999999999997" ry="1.9884999999999997"/><ellipse cx="350.49" cy="269.26" rx="2.1319999999999997" ry="1.9884999999999997"/><ellipse cx="351.45" cy="244.65" rx="2.1319999999999997" ry="1.9884999999999997"/><ellipse cx="352.41" cy="258.81" rx="2.1319999999999997" ry="1.9884999999999997"/><ellipse cx="353.38" cy="271.8" rx="2.1319999999999997" ry="1.9884999999999997"/><ellipse cx="354.34" cy="256.7" rx="2.1319999999999997" ry="1.9884999999999997"/><ellipse cx="355.31" cy="255.43" rx="2.1319999999999997" ry="1.9884999999999997"/><ellipse cx="356.27" cy="267.27" rx="2.1319999999999997" ry="1.9884999999999997"/><ellipse cx="357.24" cy="263.51" rx="2.1319999999999997" ry="1.9884999999999997"/><ellipse cx="358.2" cy="239.86" rx="2.1319999999999997" ry="1.9884999999999997"/><ellipse cx="359.17" cy="248.14" rx="2.1319999999999997" ry="1.9884999999999997"/><ellipse cx="360.13" cy="276.68" rx="2.1319999999999997" ry="1.9884999999999997"/><ellipse cx="361.09" cy="272.61" rx="2.1319999999999997" ry="1.9884999999999997"/><ellipse cx="362.06" cy="248.09" rx="2.1319999999999997" ry="1.9884999999999997"/><ellipse cx="363.02" cy="240.31" rx="2.1319999999999997" ry="1.9884999999999997"/><ellipse cx="363.99" cy="250.55" rx="2.1319999999999997" ry="1.9884999999999997"/><ellipse cx="364.95" cy="249.62" rx="2.1319999999999997" ry="1.9884999999999997"/><ellipse cx="365.92" cy="258.28" rx="2.1319999999999997" ry="1.9884999999999997"/><ellipse cx="366.88" cy="261.51" rx="2.1319999999999997" ry="1.9884999999999997"/><ellipse cx="367.85" cy="251.24" rx="2.1319999999999997" ry="1.9884999999999997"/><ellipse cx="368.81" cy="257.01" rx="2.1319999999999997" ry="1.9884999999999997"/><ellipse cx="369.77" cy="253.97" rx="2.1319999999999997" ry="1.9884999999999997"/><ellipse cx="370.74" cy="254.62" rx="2.1319999999999997" ry="1.9884999999999997"/><ellipse cx="371.7" cy="265.83" rx="2.1319999999999997" ry="1.9884999999999997"/><ellipse cx="372.67" cy="258.72" rx="2.1319999999999997" ry="1.9884999999999997"/><ellipse cx="373.63" cy="272.61" rx="2.1319999999999997" ry="1.9884999999999997"/><ellipse cx="374.6" cy="258.31" rx="2.1319999999999997" ry="1.9884999999999997"/><ellipse cx="375.56" cy="264.36" rx="2.1319999999999997" ry="1.9884999999999997"/><ellipse cx="376.53" cy="254.53" rx="2.1319999999999997" ry="1.9884999999999997"/><ellipse cx="377.49" cy="268.6" rx="2.1319999999999997" ry="1.9884999999999997"/><ellipse cx="378.46" cy="267.14" rx="2.1319999999999997" ry="1.9884999999999997"/><ellipse cx="379.42" cy="256.37" rx="2.1319999999999997" ry="1.9884999999999997"/><ellipse cx="380.38" cy="252.91" rx="2.1319999999999997" ry="1.9884999999999997"/><ellipse cx="381.35" cy="253.8" rx="2.1319999999999997" ry="1.9884999999999997"/><ellipse cx="382.31" cy="263.57" rx="2.1319999999999997" ry="1.9884999999999997"/><ellipse cx="383.28" cy="253.06" rx="2.1319999999999997" ry="1.9884999999999997"/><ellipse cx="384.24" cy="260.02" rx="2.1319999999999997" ry="1.9884999999999997"/><ellipse cx="385.21" cy="238.97" rx="2.1319999999999997" ry="1.9884999999999997"/><ellipse cx="386.17" cy="249.42" rx="2.1319999999999997" ry="1.9884999999999997"/><ellipse cx="387.14" cy="246.37" rx="2.1319999999999997" ry="1.9884999999999997"/><ellipse cx="388.1" cy="252.91" rx="2.1319999999999997" ry="1.9884999999999997"/><ellipse cx="389.06" cy="249.64" rx="2.1319999999999997" ry="1.9884999999999997"/><ellipse cx="390.03" cy="244.69" rx="2.1319999999999997" ry="1.9884999999999997"/><ellipse cx="390.99" cy="244.28" rx="2.1319999999999997" ry="1.9884999999999997"/><ellipse cx="391.96" cy="249.26" rx="2.1319999999999997" ry="1.9884999999999997"/><ellipse cx="392.92" cy="242.26" rx="2.1319999999999997" ry="1.9884999999999997"/><ellipse cx="393.89" cy="248.91" rx="2.1319999999999997" ry="1.9884999999999997"/><ellipse cx="394.85" cy="248.39" rx="2.1319999999999997" ry="1.9884999999999997"/><ellipse cx="395.82" cy="247.95" rx="2.1319999999999997" ry="1.9884999999999997"/><ellipse cx="396.78" cy="248.05" rx="2.1319999999999997" ry="1.9884999999999997"/><ellipse cx="397.75" cy="251.24" rx="2.1319999999999997" ry="1.9884999999999997"/><ellipse cx="398.71" cy="249.62" rx="2.1319999999999997" ry="1.9884999999999997"/></g>
<polyline points="303.22,282.79 304.19,280.77 305.15,277.01 306.12,272.05 307.08,266.58 308.05,261.35 309.01,256.91 309.98,253.63 310.94,251.6 311.9,250.72 312.87,250.77 313.83,251.35 314.8,251.98 315.76,252.13 316.73,251.32 317.69,249.28 318.66,246.07 319.62,242.1 320.59,238.14 321.55,235.06 322.51,233.62 323.48,234.2 324.44,236.7 325.41,240.62 326.37,245.2 327.34,249.74 328.3,253.71 329.27,256.9 330.23,259.27 331.19,260.86 332.16,261.71 333.12,261.84 334.09,261.34 335.05,260.37 336.02,259.24 336.98,258.26 337.95,257.69 338.91,257.67 339.88,258.18 340.84,259.06 341.8,260.13 342.77,261.2 343.73,262.18 344.7,263.04 345.66,263.74 346.63,264.22 347.59,264.4 348.56,264.22 349.52,263.68 350.49,262.91 351.45,262.07 352.41,261.28 353.38,260.6 354.34,260 355.31,259.45 356.27,258.93 357.24,258.45 358.2,258 359.17,257.53 360.13,256.94 361.09,256.19 362.06,255.36 363.02,254.61 363.99,254.15 364.95,254.09 365.92,254.42 366.88,255.03 367.85,255.82 368.81,256.74 369.77,257.76 370.74,258.83 371.7,259.89 372.67,260.8 373.63,261.47 374.6,261.81 375.56,261.83 376.53,261.53 377.49,260.95 378.46,260.13 379.42,259.11 380.38,257.96 381.35,256.7 382.31,255.37 383.28,253.98 384.24,252.6 385.21,251.31 386.17,250.18 387.14,249.25 388.1,248.53 389.06,247.97 390.03,247.55 390.99,247.29 391.96,247.19 392.92,247.28 393.89,247.52 394.85,247.87 395.82,248.27 396.78,248.65 397.75,248.94 398.71,249.09" fill="none" stroke="#ff7f0e" stroke-width="1.6" stroke-dasharray="1.65 2.75" stroke-linejoin="round"/>
</g>
<rect x="298.45" y="185.8" width="105.03" height="135.3" fill="none" stroke="#000" stroke-width="0.65"/>
<path d="M302.26 321.1v2.7M350.49 321.1v2.7M398.71 321.1v2.7M298.45 310.2h-2.7M298.45 280.27h-2.7M298.45 250.34h-2.7M298.45 220.41h-2.7M298.45 190.48h-2.7" stroke="#000" stroke-width="0.65" fill="none"/>
<g font-size="9.75">
<text transform="translate(299.64 334.1) scale(1.0031 1)">0</text>
<text transform="translate(345.15 334.1) scale(1.0031 1)">50</text>
<text transform="translate(390.65 334.1) scale(1.0036 1)">100</text>
<text transform="translate(278.86 313.8) scale(1.0031 1)">1.1</text>
<text transform="translate(278.86 283.87) scale(1.0031 1)">1.2</text>
<text transform="translate(278.86 253.94) scale(1.0031 1)">1.3</text>
<text transform="translate(278.86 224.01) scale(1.0031 1)">1.4</text>
<text transform="translate(278.86 194.08) scale(1.0031 1)">1.5</text>
</g>
<g font-size="10.2"><text transform="translate(323.8 180.55) scale(1.0768 1)">val/dfl_loss</text></g>
</g>
<g>
<clipPath id="c8"><rect x="437.48" y="185.8" width="105.03" height="135.3"/></clipPath>
<g clip-path="url(#c8)">
<polyline points="442.25,276.23 443.22,220.9 444.18,268.74 445.15,299.09 446.11,315.58 447.08,271.24 448.04,251.88 449.01,227.52 449.97,193.3 450.94,193.55 451.9,194.42 452.86,194.8 453.83,193.8 454.79,192.55 455.76,192.3 456.72,193.17 457.69,193.3 458.65,192.8 459.62,192.55 460.58,192.8 461.54,192.93 462.51,192.3 463.47,192.43 464.44,192.05 465.4,192.26 466.37,192.36 467.33,192.16 468.3,192.55 469.26,192.56 470.23,192.1 471.19,192.37 472.15,192.12 473.12,194.8 474.08,194.42 475.05,193.17 476.01,192.55 476.98,194.42 477.94,194.8 478.91,194.42 479.87,194.05 480.83,192.55 481.8,192.15 482.76,192.14 483.73,192.15 484.69,191.92 485.66,192.36 486.62,191.92 487.59,191.92 488.55,191.92 489.52,192.5 490.48,191.92 491.44,191.92 492.41,192.07 493.37,192.48 494.34,192.49 495.3,192.35 496.27,191.92 497.23,192.36 498.2,192.38 499.16,192.16 500.12,192.03 501.09,191.92 502.05,191.92 503.02,192.24 503.98,191.92 504.95,192.48 505.91,192.12 506.88,192.3 507.84,192.8 508.81,192.67 509.77,191.99 510.73,192.07 511.7,192.27 512.66,192.27 513.63,192.25 514.59,191.92 515.56,192.06 516.52,191.92 517.49,191.98 518.45,192.04 519.41,191.92 520.38,191.92 521.34,192.16 522.31,191.92 523.27,192.23 524.24,192.32 525.2,191.92 526.17,191.96 527.13,192.27 528.1,192.34 529.06,191.92 530.02,192.15 530.99,192.34 531.95,191.95 532.92,191.92 533.88,192.4 534.85,191.93 535.81,192.35 536.78,191.92 537.74,191.92" fill="none" stroke="#1f77b4" stroke-width="1.6" stroke-linejoin="round" stroke-linecap="square"/>
<g fill="#1f77b4"><ellipse cx="442.25" cy="276.23" rx="2.1319999999999997" ry="1.9884999999999997"/><ellipse cx="443.22" cy="220.9" rx="2.1319999999999997" ry="1.9884999999999997"/><ellipse cx="444.18" cy="268.74" rx="2.1319999999999997" ry="1.9884999999999997"/><ellipse cx="445.15" cy="299.09" rx="2.1319999999999997" ry="1.9884999999999997"/><ellipse cx="446.11" cy="315.58" rx="2.1319999999999997" ry="1.9884999999999997"/><ellipse cx="447.08" cy="271.24" rx="2.1319999999999997" ry="1.9884999999999997"/><ellipse cx="448.04" cy="251.88" rx="2.1319999999999997" ry="1.9884999999999997"/><ellipse cx="449.01" cy="227.52" rx="2.1319999999999997" ry="1.9884999999999997"/><ellipse cx="449.97" cy="193.3" rx="2.1319999999999997" ry="1.9884999999999997"/><ellipse cx="450.94" cy="193.55" rx="2.1319999999999997" ry="1.9884999999999997"/><ellipse cx="451.9" cy="194.42" rx="2.1319999999999997" ry="1.9884999999999997"/><ellipse cx="452.86" cy="194.8" rx="2.1319999999999997" ry="1.9884999999999997"/><ellipse cx="453.83" cy="193.8" rx="2.1319999999999997" ry="1.9884999999999997"/><ellipse cx="454.79" cy="192.55" rx="2.1319999999999997" ry="1.9884999999999997"/><ellipse cx="455.76" cy="192.3" rx="2.1319999999999997" ry="1.9884999999999997"/><ellipse cx="456.72" cy="193.17" rx="2.1319999999999997" ry="1.9884999999999997"/><ellipse cx="457.69" cy="193.3" rx="2.1319999999999997" ry="1.9884999999999997"/><ellipse cx="458.65" cy="192.8" rx="2.1319999999999997" ry="1.9884999999999997"/><ellipse cx="459.62" cy="192.55" rx="2.1319999999999997" ry="1.9884999999999997"/><ellipse cx="460.58" cy="192.8" rx="2.1319999999999997" ry="1.9884999999999997"/><ellipse cx="461.54" cy="192.93" rx="2.1319999999999997" ry="1.9884999999999997"/><ellipse cx="462.51" cy="192.3" rx="2.1319999999999997" ry="1.9884999999999997"/><ellipse cx="463.47" cy="192.43" rx="2.1319999999999997" ry="1.9884999999999997"/><ellipse cx="464.44" cy="192.05" rx="2.1319999999999997" ry="1.9884999999999997"/><ellipse cx="465.4" cy="192.26" rx="2.1319999999999997" ry="1.9884999999999997"/><ellipse cx="466.37" cy="192.36" rx="2.1319999999999997" ry="1.9884999999999997"/><ellipse cx="467.33" cy="192.16" rx="2.1319999999999997" ry="1.9884999999999997"/><ellipse cx="468.3" cy="192.55" rx="2.1319999999999997" ry="1.9884999999999997"/><ellipse cx="469.26" cy="192.56" rx="2.1319999999999997" ry="1.9884999999999997"/><ellipse cx="470.23" cy="192.1" rx="2.1319999999999997" ry="1.9884999999999997"/><ellipse cx="471.19" cy="192.37" rx="2.1319999999999997" ry="1.9884999999999997"/><ellipse cx="472.15" cy="192.12" rx="2.1319999999999997" ry="1.9884999999999997"/><ellipse cx="473.12" cy="194.8" rx="2.1319999999999997" ry="1.9884999999999997"/><ellipse cx="474.08" cy="194.42" rx="2.1319999999999997" ry="1.9884999999999997"/><ellipse cx="475.05" cy="193.17" rx="2.1319999999999997" ry="1.9884999999999997"/><ellipse cx="476.01" cy="192.55" rx="2.1319999999999997" ry="1.9884999999999997"/><ellipse cx="476.98" cy="194.42" rx="2.1319999999999997" ry="1.9884999999999997"/><ellipse cx="477.94" cy="194.8" rx="2.1319999999999997" ry="1.9884999999999997"/><ellipse cx="478.91" cy="194.42" rx="2.1319999999999997" ry="1.9884999999999997"/><ellipse cx="479.87" cy="194.05" rx="2.1319999999999997" ry="1.9884999999999997"/><ellipse cx="480.83" cy="192.55" rx="2.1319999999999997" ry="1.9884999999999997"/><ellipse cx="481.8" cy="192.15" rx="2.1319999999999997" ry="1.9884999999999997"/><ellipse cx="482.76" cy="192.14" rx="2.1319999999999997" ry="1.9884999999999997"/><ellipse cx="483.73" cy="192.15" rx="2.1319999999999997" ry="1.9884999999999997"/><ellipse cx="484.69" cy="191.92" rx="2.1319999999999997" ry="1.9884999999999997"/><ellipse cx="485.66" cy="192.36" rx="2.1319999999999997" ry="1.9884999999999997"/><ellipse cx="486.62" cy="191.92" rx="2.1319999999999997" ry="1.9884999999999997"/><ellipse cx="487.59" cy="191.92" rx="2.1319999999999997" ry="1.9884999999999997"/><ellipse cx="488.55" cy="191.92" rx="2.1319999999999997" ry="1.9884999999999997"/><ellipse cx="489.52" cy="192.5" rx="2.1319999999999997" ry="1.9884999999999997"/><ellipse cx="490.48" cy="191.92" rx="2.1319999999999997" ry="1.9884999999999997"/><ellipse cx="491.44" cy="191.92" rx="2.1319999999999997" ry="1.9884999999999997"/><ellipse cx="492.41" cy="192.07" rx="2.1319999999999997" ry="1.9884999999999997"/><ellipse cx="493.37" cy="192.48" rx="2.1319999999999997" ry="1.9884999999999997"/><ellipse cx="494.34" cy="192.49" rx="2.1319999999999997" ry="1.9884999999999997"/><ellipse cx="495.3" cy="192.35" rx="2.1319999999999997" ry="1.9884999999999997"/><ellipse cx="496.27" cy="191.92" rx="2.1319999999999997" ry="1.9884999999999997"/><ellipse cx="497.23" cy="192.36" rx="2.1319999999999997" ry="1.9884999999999997"/><ellipse cx="498.2" cy="192.38" rx="2.1319999999999997" ry="1.9884999999999997"/><ellipse cx="499.16" cy="192.16" rx="2.1319999999999997" ry="1.9884999999999997"/><ellipse cx="500.12" cy="192.03" rx="2.1319999999999997" ry="1.9884999999999997"/><ellipse cx="501.09" cy="191.92" rx="2.1319999999999997" ry="1.9884999999999997"/><ellipse cx="502.05" cy="191.92" rx="2.1319999999999997" ry="1.9884999999999997"/><ellipse cx="503.02" cy="192.24" rx="2.1319999999999997" ry="1.9884999999999997"/><ellipse cx="503.98" cy="191.92" rx="2.1319999999999997" ry="1.9884999999999997"/><ellipse cx="504.95" cy="192.48" rx="2.1319999999999997" ry="1.9884999999999997"/><ellipse cx="505.91" cy="192.12" rx="2.1319999999999997" ry="1.9884999999999997"/><ellipse cx="506.88" cy="192.3" rx="2.1319999999999997" ry="1.9884999999999997"/><ellipse cx="507.84" cy="192.8" rx="2.1319999999999997" ry="1.9884999999999997"/><ellipse cx="508.81" cy="192.67" rx="2.1319999999999997" ry="1.9884999999999997"/><ellipse cx="509.77" cy="191.99" rx="2.1319999999999997" ry="1.9884999999999997"/><ellipse cx="510.73" cy="192.07" rx="2.1319999999999997" ry="1.9884999999999997"/><ellipse cx="511.7" cy="192.27" rx="2.1319999999999997" ry="1.9884999999999997"/><ellipse cx="512.66" cy="192.27" rx="2.1319999999999997" ry="1.9884999999999997"/><ellipse cx="513.63" cy="192.25" rx="2.1319999999999997" ry="1.9884999999999997"/><ellipse cx="514.59" cy="191.92" rx="2.1319999999999997" ry="1.9884999999999997"/><ellipse cx="515.56" cy="192.06" rx="2.1319999999999997" ry="1.9884999999999997"/><ellipse cx="516.52" cy="191.92" rx="2.1319999999999997" ry="1.9884999999999997"/><ellipse cx="517.49" cy="191.98" rx="2.1319999999999997" ry="1.9884999999999997"/><ellipse cx="518.45" cy="192.04" rx="2.1319999999999997" ry="1.9884999999999997"/><ellipse cx="519.41" cy="191.92" rx="2.1319999999999997" ry="1.9884999999999997"/><ellipse cx="520.38" cy="191.92" rx="2.1319999999999997" ry="1.9884999999999997"/><ellipse cx="521.34" cy="192.16" rx="2.1319999999999997" ry="1.9884999999999997"/><ellipse cx="522.31" cy="191.92" rx="2.1319999999999997" ry="1.9884999999999997"/><ellipse cx="523.27" cy="192.23" rx="2.1319999999999997" ry="1.9884999999999997"/><ellipse cx="524.24" cy="192.32" rx="2.1319999999999997" ry="1.9884999999999997"/><ellipse cx="525.2" cy="191.92" rx="2.1319999999999997" ry="1.9884999999999997"/><ellipse cx="526.17" cy="191.96" rx="2.1319999999999997" ry="1.9884999999999997"/><ellipse cx="527.13" cy="192.27" rx="2.1319999999999997" ry="1.9884999999999997"/><ellipse cx="528.1" cy="192.34" rx="2.1319999999999997" ry="1.9884999999999997"/><ellipse cx="529.06" cy="191.92" rx="2.1319999999999997" ry="1.9884999999999997"/><ellipse cx="530.02" cy="192.15" rx="2.1319999999999997" ry="1.9884999999999997"/><ellipse cx="530.99" cy="192.34" rx="2.1319999999999997" ry="1.9884999999999997"/><ellipse cx="531.95" cy="191.95" rx="2.1319999999999997" ry="1.9884999999999997"/><ellipse cx="532.92" cy="191.92" rx="2.1319999999999997" ry="1.9884999999999997"/><ellipse cx="533.88" cy="192.4" rx="2.1319999999999997" ry="1.9884999999999997"/><ellipse cx="534.85" cy="191.93" rx="2.1319999999999997" ry="1.9884999999999997"/><ellipse cx="535.81" cy="192.35" rx="2.1319999999999997" ry="1.9884999999999997"/><ellipse cx="536.78" cy="191.92" rx="2.1319999999999997" ry="1.9884999999999997"/><ellipse cx="537.74" cy="191.92" rx="2.1319999999999997" ry="1.9884999999999997"/></g>
<polyline points="442.25,266.33 443.22,266.69 444.18,266.67 445.15,265.13 446.11,261.05 447.08,254 448.04,244.43 449.01,233.5 449.97,222.64 450.94,213.12 451.9,205.65 452.86,200.37 453.83,196.98 454.79,194.99 455.76,193.9 456.72,193.34 457.69,193.05 458.65,192.88 459.62,192.78 460.58,192.69 461.54,192.6 462.51,192.53 463.47,192.46 464.44,192.4 465.4,192.38 466.37,192.37 467.33,192.4 468.3,192.46 469.26,192.56 470.23,192.69 471.19,192.87 472.15,193.06 473.12,193.25 474.08,193.43 475.05,193.57 476.01,193.67 476.98,193.69 477.94,193.65 478.91,193.52 479.87,193.32 480.83,193.07 481.8,192.81 482.76,192.58 483.73,192.39 484.69,192.26 485.66,192.17 486.62,192.12 487.59,192.1 488.55,192.09 489.52,192.1 490.48,192.13 491.44,192.15 492.41,192.18 493.37,192.21 494.34,192.23 495.3,192.23 496.27,192.23 497.23,192.21 498.2,192.18 499.16,192.16 500.12,192.14 501.09,192.13 502.05,192.13 503.02,192.15 503.98,192.19 504.95,192.23 505.91,192.27 506.88,192.3 507.84,192.32 508.81,192.31 509.77,192.29 510.73,192.25 511.7,192.21 512.66,192.17 513.63,192.13 514.59,192.09 515.56,192.06 516.52,192.04 517.49,192.02 518.45,192.02 519.41,192.02 520.38,192.03 521.34,192.05 522.31,192.07 523.27,192.08 524.24,192.1 525.2,192.11 526.17,192.12 527.13,192.13 528.1,192.13 529.06,192.13 530.02,192.13 530.99,192.12 531.95,192.11 532.92,192.11 533.88,192.1 534.85,192.08 535.81,192.07 536.78,192.06 537.74,192.05" fill="none" stroke="#ff7f0e" stroke-width="1.6" stroke-dasharray="1.65 2.75" stroke-linejoin="round"/>
</g>
<rect x="437.48" y="185.8" width="105.03" height="135.3" fill="none" stroke="#000" stroke-width="0.65"/>
<path d="M441.29 321.1v2.7M489.52 321.1v2.7M537.74 321.1v2.7M437.48 316.2h-2.7M437.48 291.22h-2.7M437.48 266.24h-2.7M437.48 241.26h-2.7M437.48 216.28h-2.7M437.48 191.3h-2.7" stroke="#000" stroke-width="0.65" fill="none"/>
<g font-size="9.75">
<text transform="translate(438.67 334.1) scale(1.0031 1)">0</text>
<text transform="translate(484.18 334.1) scale(1.0031 1)">50</text>
<text transform="translate(529.68 334.1) scale(1.0036 1)">100</text>
<text transform="translate(417.89 319.8) scale(1.0031 1)">0.0</text>
<text transform="translate(417.89 294.82) scale(1.0031 1)">0.2</text>
<text transform="translate(417.89 269.84) scale(1.0031 1)">0.4</text>
<text transform="translate(417.89 244.86) scale(1.0031 1)">0.6</text>
<text transform="translate(417.89 219.88) scale(1.0031 1)">0.8</text>
<text transform="translate(417.89 194.9) scale(1.0031 1)">1.0</text>
</g>
<g font-size="10.2"><text transform="translate(445.29 180.55) scale(1.0807 1)">metrics/mAP50(B)</text></g>
</g>
<g>
<clipPath id="c9"><rect x="576.51" y="185.8" width="105.03" height="135.3"/></clipPath>
<g clip-path="url(#c9)">
<polyline points="581.28,294.19 582.25,243.5 583.21,282.79 584.18,306.38 585.14,315.61 586.11,276.9 587.07,266.09 588.04,245.46 589,220.7 589.97,210.68 590.93,215.98 591.89,216.77 592.86,208.12 593.82,202.62 594.79,201.08 595.75,203.57 596.72,203.63 597.68,210.94 598.65,209.95 599.61,221.29 600.57,208.51 601.54,205.08 602.5,202.56 603.47,199.49 604.43,210.55 605.4,207.17 606.36,202.29 607.33,206.55 608.29,208.91 609.26,205.63 610.22,200.35 611.18,198.92 612.15,200.72 613.11,210.2 614.08,213.63 615.04,208.91 616.01,209.69 616.97,205.61 617.94,205.43 618.9,195.55 619.86,198.45 620.83,199.59 621.79,207.74 622.76,200.6 623.72,202.61 624.69,197.48 625.65,200.72 626.62,198.15 627.58,204.58 628.55,209.78 629.51,211.07 630.47,207.39 631.44,194.79 632.4,201.04 633.37,200.19 634.33,196.77 635.3,200.36 636.26,208.47 637.23,200.06 638.19,199.08 639.15,191.62 640.12,195.72 641.08,205.89 642.05,200.15 643.01,199.17 643.98,199.03 644.94,203.57 645.91,202.97 646.87,203.95 647.84,198.7 648.8,202.22 649.76,197.72 650.73,195.14 651.69,191.23 652.66,193.99 653.62,196.66 654.59,196.04 655.55,196.91 656.52,198.38 657.48,200.72 658.44,202.07 659.41,203.37 660.37,204.42 661.34,205.58 662.3,205.05 663.27,204.97 664.23,204.11 665.2,203.41 666.16,201.88 667.12,200.77 668.09,201.21 669.05,201.78 670.02,202.4 670.98,200.26 671.95,200.12 672.91,198.96 673.88,197.4 674.84,197.57 675.81,198.31 676.77,198.69" fill="none" stroke="#1f77b4" stroke-width="1.6" stroke-linejoin="round" stroke-linecap="square"/>
<g fill="#1f77b4"><ellipse cx="581.28" cy="294.19" rx="2.1319999999999997" ry="1.9884999999999997"/><ellipse cx="582.25" cy="243.5" rx="2.1319999999999997" ry="1.9884999999999997"/><ellipse cx="583.21" cy="282.79" rx="2.1319999999999997" ry="1.9884999999999997"/><ellipse cx="584.18" cy="306.38" rx="2.1319999999999997" ry="1.9884999999999997"/><ellipse cx="585.14" cy="315.61" rx="2.1319999999999997" ry="1.9884999999999997"/><ellipse cx="586.11" cy="276.9" rx="2.1319999999999997" ry="1.9884999999999997"/><ellipse cx="587.07" cy="266.09" rx="2.1319999999999997" ry="1.9884999999999997"/><ellipse cx="588.04" cy="245.46" rx="2.1319999999999997" ry="1.9884999999999997"/><ellipse cx="589" cy="220.7" rx="2.1319999999999997" ry="1.9884999999999997"/><ellipse cx="589.97" cy="210.68" rx="2.1319999999999997" ry="1.9884999999999997"/><ellipse cx="590.93" cy="215.98" rx="2.1319999999999997" ry="1.9884999999999997"/><ellipse cx="591.89" cy="216.77" rx="2.1319999999999997" ry="1.9884999999999997"/><ellipse cx="592.86" cy="208.12" rx="2.1319999999999997" ry="1.9884999999999997"/><ellipse cx="593.82" cy="202.62" rx="2.1319999999999997" ry="1.9884999999999997"/><ellipse cx="594.79" cy="201.08" rx="2.1319999999999997" ry="1.9884999999999997"/><ellipse cx="595.75" cy="203.57" rx="2.1319999999999997" ry="1.9884999999999997"/><ellipse cx="596.72" cy="203.63" rx="2.1319999999999997" ry="1.9884999999999997"/><ellipse cx="597.68" cy="210.94" rx="2.1319999999999997" ry="1.9884999999999997"/><ellipse cx="598.65" cy="209.95" rx="2.1319999999999997" ry="1.9884999999999997"/><ellipse cx="599.61" cy="221.29" rx="2.1319999999999997" ry="1.9884999999999997"/><ellipse cx="600.57" cy="208.51" rx="2.1319999999999997" ry="1.9884999999999997"/><ellipse cx="601.54" cy="205.08" rx="2.1319999999999997" ry="1.9884999999999997"/><ellipse cx="602.5" cy="202.56" rx="2.1319999999999997" ry="1.9884999999999997"/><ellipse cx="603.47" cy="199.49" rx="2.1319999999999997" ry="1.9884999999999997"/><ellipse cx="604.43" cy="210.55" rx="2.1319999999999997" ry="1.9884999999999997"/><ellipse cx="605.4" cy="207.17" rx="2.1319999999999997" ry="1.9884999999999997"/><ellipse cx="606.36" cy="202.29" rx="2.1319999999999997" ry="1.9884999999999997"/><ellipse cx="607.33" cy="206.55" rx="2.1319999999999997" ry="1.9884999999999997"/><ellipse cx="608.29" cy="208.91" rx="2.1319999999999997" ry="1.9884999999999997"/><ellipse cx="609.26" cy="205.63" rx="2.1319999999999997" ry="1.9884999999999997"/><ellipse cx="610.22" cy="200.35" rx="2.1319999999999997" ry="1.9884999999999997"/><ellipse cx="611.18" cy="198.92" rx="2.1319999999999997" ry="1.9884999999999997"/><ellipse cx="612.15" cy="200.72" rx="2.1319999999999997" ry="1.9884999999999997"/><ellipse cx="613.11" cy="210.2" rx="2.1319999999999997" ry="1.9884999999999997"/><ellipse cx="614.08" cy="213.63" rx="2.1319999999999997" ry="1.9884999999999997"/><ellipse cx="615.04" cy="208.91" rx="2.1319999999999997" ry="1.9884999999999997"/><ellipse cx="616.01" cy="209.69" rx="2.1319999999999997" ry="1.9884999999999997"/><ellipse cx="616.97" cy="205.61" rx="2.1319999999999997" ry="1.9884999999999997"/><ellipse cx="617.94" cy="205.43" rx="2.1319999999999997" ry="1.9884999999999997"/><ellipse cx="618.9" cy="195.55" rx="2.1319999999999997" ry="1.9884999999999997"/><ellipse cx="619.86" cy="198.45" rx="2.1319999999999997" ry="1.9884999999999997"/><ellipse cx="620.83" cy="199.59" rx="2.1319999999999997" ry="1.9884999999999997"/><ellipse cx="621.79" cy="207.74" rx="2.1319999999999997" ry="1.9884999999999997"/><ellipse cx="622.76" cy="200.6" rx="2.1319999999999997" ry="1.9884999999999997"/><ellipse cx="623.72" cy="202.61" rx="2.1319999999999997" ry="1.9884999999999997"/><ellipse cx="624.69" cy="197.48" rx="2.1319999999999997" ry="1.9884999999999997"/><ellipse cx="625.65" cy="200.72" rx="2.1319999999999997" ry="1.9884999999999997"/><ellipse cx="626.62" cy="198.15" rx="2.1319999999999997" ry="1.9884999999999997"/><ellipse cx="627.58" cy="204.58" rx="2.1319999999999997" ry="1.9884999999999997"/><ellipse cx="628.55" cy="209.78" rx="2.1319999999999997" ry="1.9884999999999997"/><ellipse cx="629.51" cy="211.07" rx="2.1319999999999997" ry="1.9884999999999997"/><ellipse cx="630.47" cy="207.39" rx="2.1319999999999997" ry="1.9884999999999997"/><ellipse cx="631.44" cy="194.79" rx="2.1319999999999997" ry="1.9884999999999997"/><ellipse cx="632.4" cy="201.04" rx="2.1319999999999997" ry="1.9884999999999997"/><ellipse cx="633.37" cy="200.19" rx="2.1319999999999997" ry="1.9884999999999997"/><ellipse cx="634.33" cy="196.77" rx="2.1319999999999997" ry="1.9884999999999997"/><ellipse cx="635.3" cy="200.36" rx="2.1319999999999997" ry="1.9884999999999997"/><ellipse cx="636.26" cy="208.47" rx="2.1319999999999997" ry="1.9884999999999997"/><ellipse cx="637.23" cy="200.06" rx="2.1319999999999997" ry="1.9884999999999997"/><ellipse cx="638.19" cy="199.08" rx="2.1319999999999997" ry="1.9884999999999997"/><ellipse cx="639.15" cy="191.62" rx="2.1319999999999997" ry="1.9884999999999997"/><ellipse cx="640.12" cy="195.72" rx="2.1319999999999997" ry="1.9884999999999997"/><ellipse cx="641.08" cy="205.89" rx="2.1319999999999997" ry="1.9884999999999997"/><ellipse cx="642.05" cy="200.15" rx="2.1319999999999997" ry="1.9884999999999997"/><ellipse cx="643.01" cy="199.17" rx="2.1319999999999997" ry="1.9884999999999997"/><ellipse cx="643.98" cy="199.03" rx="2.1319999999999997" ry="1.9884999999999997"/><ellipse cx="644.94" cy="203.57" rx="2.1319999999999997" ry="1.9884999999999997"/><ellipse cx="645.91" cy="202.97" rx="2.1319999999999997" ry="1.9884999999999997"/><ellipse cx="646.87" cy="203.95" rx="2.1319999999999997" ry="1.9884999999999997"/><ellipse cx="647.84" cy="198.7" rx="2.1319999999999997" ry="1.9884999999999997"/><ellipse cx="648.8" cy="202.22" rx="2.1319999999999997" ry="1.9884999999999997"/><ellipse cx="649.76" cy="197.72" rx="2.1319999999999997" ry="1.9884999999999997"/><ellipse cx="650.73" cy="195.14" rx="2.1319999999999997" ry="1.9884999999999997"/><ellipse cx="651.69" cy="191.23" rx="2.1319999999999997" ry="1.9884999999999997"/><ellipse cx="652.66" cy="193.99" rx="2.1319999999999997" ry="1.9884999999999997"/><ellipse cx="653.62" cy="196.66" rx="2.1319999999999997" ry="1.9884999999999997"/><ellipse cx="654.59" cy="196.04" rx="2.1319999999999997" ry="1.9884999999999997"/><ellipse cx="655.55" cy="196.91" rx="2.1319999999999997" ry="1.9884999999999997"/><ellipse cx="656.52" cy="198.38" rx="2.1319999999999997" ry="1.9884999999999997"/><ellipse cx="657.48" cy="200.72" rx="2.1319999999999997" ry="1.9884999999999997"/><ellipse cx="658.44" cy="202.07" rx="2.1319999999999997" ry="1.9884999999999997"/><ellipse cx="659.41" cy="203.37" rx="2.1319999999999997" ry="1.9884999999999997"/><ellipse cx="660.37" cy="204.42" rx="2.1319999999999997" ry="1.9884999999999997"/><ellipse cx="661.34" cy="205.58" rx="2.1319999999999997" ry="1.9884999999999997"/><ellipse cx="662.3" cy="205.05" rx="2.1319999999999997" ry="1.9884999999999997"/><ellipse cx="663.27" cy="204.97" rx="2.1319999999999997" ry="1.9884999999999997"/><ellipse cx="664.23" cy="204.11" rx="2.1319999999999997" ry="1.9884999999999997"/><ellipse cx="665.2" cy="203.41" rx="2.1319999999999997" ry="1.9884999999999997"/><ellipse cx="666.16" cy="201.88" rx="2.1319999999999997" ry="1.9884999999999997"/><ellipse cx="667.12" cy="200.77" rx="2.1319999999999997" ry="1.9884999999999997"/><ellipse cx="668.09" cy="201.21" rx="2.1319999999999997" ry="1.9884999999999997"/><ellipse cx="669.05" cy="201.78" rx="2.1319999999999997" ry="1.9884999999999997"/><ellipse cx="670.02" cy="202.4" rx="2.1319999999999997" ry="1.9884999999999997"/><ellipse cx="670.98" cy="200.26" rx="2.1319999999999997" ry="1.9884999999999997"/><ellipse cx="671.95" cy="200.12" rx="2.1319999999999997" ry="1.9884999999999997"/><ellipse cx="672.91" cy="198.96" rx="2.1319999999999997" ry="1.9884999999999997"/><ellipse cx="673.88" cy="197.4" rx="2.1319999999999997" ry="1.9884999999999997"/><ellipse cx="674.84" cy="197.57" rx="2.1319999999999997" ry="1.9884999999999997"/><ellipse cx="675.81" cy="198.31" rx="2.1319999999999997" ry="1.9884999999999997"/><ellipse cx="676.77" cy="198.69" rx="2.1319999999999997" ry="1.9884999999999997"/></g>
<polyline points="581.28,280.94 582.25,280.85 583.21,280.15 584.18,278.04 585.14,273.82 586.11,267.22 587.07,258.6 588.04,248.83 589,238.99 589.97,230.03 590.93,222.56 591.89,216.77 592.86,212.61 593.82,209.87 594.79,208.32 595.75,207.7 596.72,207.72 597.68,208.03 598.65,208.3 599.61,208.32 600.57,208 601.54,207.45 602.5,206.81 603.47,206.26 604.43,205.86 605.4,205.59 606.36,205.37 607.33,205.16 608.29,204.96 609.26,204.82 610.22,204.85 611.18,205.09 612.15,205.53 613.11,205.99 614.08,206.29 615.04,206.23 616.01,205.77 616.97,204.96 617.94,203.99 618.9,203.07 619.86,202.34 620.83,201.86 621.79,201.6 622.76,201.53 623.72,201.62 624.69,201.87 625.65,202.29 626.62,202.81 627.58,203.28 628.55,203.56 629.51,203.51 630.47,203.14 631.44,202.55 632.4,201.9 633.37,201.32 634.33,200.86 635.3,200.51 636.26,200.19 637.23,199.9 638.19,199.64 639.15,199.51 640.12,199.54 641.08,199.75 642.05,200.07 643.01,200.43 643.98,200.72 644.94,200.85 645.91,200.75 646.87,200.37 647.84,199.73 648.8,198.9 649.76,198.01 650.73,197.23 651.69,196.7 652.66,196.52 653.62,196.73 654.59,197.29 655.55,198.13 656.52,199.15 657.48,200.25 658.44,201.31 659.41,202.25 660.37,202.99 661.34,203.47 662.3,203.69 663.27,203.65 664.23,203.4 665.2,203.03 666.16,202.58 667.12,202.13 668.09,201.68 669.05,201.24 670.02,200.79 670.98,200.32 671.95,199.84 672.91,199.39 673.88,199 674.84,198.71 675.81,198.52 676.77,198.43" fill="none" stroke="#ff7f0e" stroke-width="1.6" stroke-dasharray="1.65 2.75" stroke-linejoin="round"/>
</g>
<rect x="576.51" y="185.8" width="105.03" height="135.3" fill="none" stroke="#000" stroke-width="0.65"/>
<path d="M580.32 321.1v2.7M628.55 321.1v2.7M676.77 321.1v2.7M576.51 316.2h-2.7M576.51 296.55h-2.7M576.51 276.9h-2.7M576.51 257.25h-2.7M576.51 237.6h-2.7M576.51 217.95h-2.7M576.51 198.3h-2.7" stroke="#000" stroke-width="0.65" fill="none"/>
<g font-size="9.75">
<text transform="translate(577.7 334.1) scale(1.0031 1)">0</text>
<text transform="translate(623.21 334.1) scale(1.0031 1)">50</text>
<text transform="translate(668.71 334.1) scale(1.0036 1)">100</text>
<text transform="translate(556.92 319.8) scale(1.0031 1)">0.0</text>
<text transform="translate(556.92 300.15) scale(1.0031 1)">0.1</text>
<text transform="translate(556.92 280.5) scale(1.0031 1)">0.2</text>
<text transform="translate(556.92 260.85) scale(1.0031 1)">0.3</text>
<text transform="translate(556.92 241.2) scale(1.0031 1)">0.4</text>
<text transform="translate(556.92 221.55) scale(1.0031 1)">0.5</text>
<text transform="translate(556.92 201.9) scale(1.0031 1)">0.6</text>
</g>
<g font-size="10.2"><text transform="translate(576.28 180.55) scale(1.0822 1)">metrics/mAP50-95(B)</text></g>
</g>
</g></svg>
</body></html>
